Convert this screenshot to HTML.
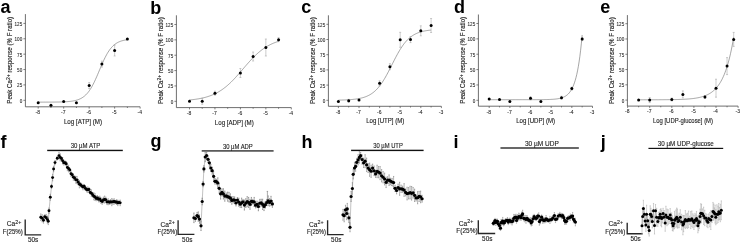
<!DOCTYPE html>
<html><head><meta charset="utf-8"><style>
html,body{margin:0;padding:0;background:#fff;}
svg{display:block;will-change:transform;}
text{font-family:"Liberation Sans", sans-serif;}
.t{stroke:#222;stroke-width:0.12px;}
.s{stroke:#333;stroke-width:0.08px;}
</style></head><body>
<svg width="746" height="244" viewBox="0 0 746 244">
<rect width="746" height="244" fill="#fff"/>
<text x="0.4" y="13.4" font-size="18" font-weight="bold" fill="#000">a</text>
<path d="M25.4 14.1V106.8H140.12" stroke="#4a4a4a" stroke-width="0.8" fill="none"/>
<text x="22.2" y="102.8" font-size="5.1" text-anchor="end" fill="#222" class="s" textLength="2.56" lengthAdjust="spacingAndGlyphs">0</text>
<text x="22.2" y="87.42" font-size="5.1" text-anchor="end" fill="#222" class="s" textLength="5.11" lengthAdjust="spacingAndGlyphs">25</text>
<text x="22.2" y="72.04" font-size="5.1" text-anchor="end" fill="#222" class="s" textLength="5.11" lengthAdjust="spacingAndGlyphs">50</text>
<text x="22.2" y="56.66" font-size="5.1" text-anchor="end" fill="#222" class="s" textLength="5.11" lengthAdjust="spacingAndGlyphs">75</text>
<text x="22.2" y="41.28" font-size="5.1" text-anchor="end" fill="#222" class="s" textLength="7.67" lengthAdjust="spacingAndGlyphs">100</text>
<text x="22.2" y="25.9" font-size="5.1" text-anchor="end" fill="#222" class="s" textLength="7.67" lengthAdjust="spacingAndGlyphs">125</text>
<text x="37.8" y="114.1" font-size="5.0" text-anchor="middle" fill="#222" class="s">-8</text>
<text x="63.28" y="114.1" font-size="5.0" text-anchor="middle" fill="#222" class="s">-7</text>
<text x="88.76" y="114.1" font-size="5.0" text-anchor="middle" fill="#222" class="s">-6</text>
<text x="114.24" y="114.1" font-size="5.0" text-anchor="middle" fill="#222" class="s">-5</text>
<text x="139.72" y="114.1" font-size="5.0" text-anchor="middle" fill="#222" class="s">-4</text>
<path d="M23.4 100.3H25.4M23.4 84.92H25.4M23.4 69.54H25.4M23.4 54.16H25.4M23.4 38.78H25.4M23.4 23.4H25.4M38.2 106.8v1.8M50.94 106.8v1.2M63.68 106.8v1.8M76.42 106.8v1.2M89.16 106.8v1.8M101.9 106.8v1.2M114.64 106.8v1.8M127.38 106.8v1.2M140.12 106.8v1.8" stroke="#4a4a4a" stroke-width="0.7" fill="none"/>
<text x="83" y="123.7" font-size="6.4" text-anchor="middle" fill="#222" class="t" textLength="38.2" lengthAdjust="spacingAndGlyphs">Log [ATP] (M)</text>
<text transform="translate(11.9 60.3) rotate(-90)" font-size="6.3" text-anchor="middle" fill="#222" class="t" textLength="86.8" lengthAdjust="spacingAndGlyphs">Peak Ca<tspan font-size="5.2" dy="-2.4">2+</tspan><tspan dy="2.4"> response (% F ratio)</tspan></text>
<path d="M38.2 102.14 L38.94 102.14 L39.69 102.14 L40.43 102.14 L41.17 102.14 L41.92 102.13 L42.66 102.13 L43.4 102.13 L44.15 102.13 L44.89 102.13 L45.63 102.13 L46.37 102.12 L47.12 102.12 L47.86 102.12 L48.6 102.12 L49.35 102.11 L50.09 102.11 L50.83 102.1 L51.58 102.1 L52.32 102.09 L53.06 102.09 L53.81 102.08 L54.55 102.07 L55.29 102.06 L56.04 102.05 L56.78 102.04 L57.52 102.03 L58.27 102.02 L59.01 102 L59.75 101.99 L60.5 101.97 L61.24 101.94 L61.98 101.92 L62.72 101.89 L63.47 101.87 L64.21 101.83 L64.95 101.79 L65.7 101.75 L66.44 101.71 L67.18 101.66 L67.93 101.6 L68.67 101.53 L69.41 101.46 L70.16 101.38 L70.9 101.29 L71.64 101.19 L72.39 101.08 L73.13 100.96 L73.87 100.82 L74.62 100.67 L75.36 100.49 L76.1 100.3 L76.84 100.09 L77.59 99.86 L78.33 99.6 L79.07 99.31 L79.82 98.99 L80.56 98.63 L81.3 98.24 L82.05 97.81 L82.79 97.34 L83.53 96.81 L84.28 96.24 L85.02 95.61 L85.76 94.92 L86.51 94.17 L87.25 93.36 L87.99 92.48 L88.74 91.52 L89.48 90.49 L90.22 89.39 L90.96 88.21 L91.71 86.95 L92.45 85.62 L93.19 84.21 L93.94 82.73 L94.68 81.19 L95.42 79.59 L96.17 77.93 L96.91 76.24 L97.65 74.5 L98.4 72.74 L99.14 70.97 L99.88 69.19 L100.63 67.43 L101.37 65.68 L102.11 63.96 L102.86 62.28 L103.6 60.64 L104.34 59.07 L105.09 57.55 L105.83 56.11 L106.57 54.73 L107.31 53.43 L108.06 52.2 L108.8 51.06 L109.54 49.98 L110.29 48.99 L111.03 48.06 L111.77 47.21 L112.52 46.42 L113.26 45.7 L114 45.04 L114.75 44.43 L115.49 43.88 L116.23 43.38 L116.98 42.92 L117.72 42.51 L118.46 42.14 L119.21 41.8 L119.95 41.49 L120.69 41.21 L121.43 40.96 L122.18 40.74 L122.92 40.54 L123.66 40.36 L124.41 40.19 L125.15 40.05 L125.89 39.91 L126.64 39.8 L127.38 39.69" stroke="#6a6a6a" stroke-width="0.6" fill="none"/>
<path d="M89.16 82.6V88.6M88.16 82.6h2M88.16 88.6h2M101.9 61.1V67.1M100.9 61.1h2M100.9 67.1h2M114.64 45V56M113.64 45h2M113.64 56h2" stroke="#9a9a9a" stroke-width="0.5" fill="none"/>
<circle cx="38.2" cy="102.7" r="1.5" fill="#000"/>
<circle cx="50.94" cy="105.2" r="1.5" fill="#000"/>
<circle cx="63.68" cy="101.6" r="1.5" fill="#000"/>
<circle cx="76.42" cy="102.7" r="1.5" fill="#000"/>
<circle cx="89.16" cy="85.6" r="1.5" fill="#000"/>
<circle cx="101.9" cy="64.1" r="1.5" fill="#000"/>
<circle cx="114.64" cy="50.5" r="1.5" fill="#000"/>
<circle cx="127.38" cy="39" r="1.5" fill="#000"/>
<text x="150.2" y="13.7" font-size="18" font-weight="bold" fill="#000">b</text>
<path d="M176.4 15.3V107.6H291.3" stroke="#4a4a4a" stroke-width="0.8" fill="none"/>
<text x="173.2" y="103.8" font-size="5.1" text-anchor="end" fill="#222" class="s" textLength="2.56" lengthAdjust="spacingAndGlyphs">0</text>
<text x="173.2" y="88.44" font-size="5.1" text-anchor="end" fill="#222" class="s" textLength="5.11" lengthAdjust="spacingAndGlyphs">25</text>
<text x="173.2" y="73.08" font-size="5.1" text-anchor="end" fill="#222" class="s" textLength="5.11" lengthAdjust="spacingAndGlyphs">50</text>
<text x="173.2" y="57.72" font-size="5.1" text-anchor="end" fill="#222" class="s" textLength="5.11" lengthAdjust="spacingAndGlyphs">75</text>
<text x="173.2" y="42.36" font-size="5.1" text-anchor="end" fill="#222" class="s" textLength="7.67" lengthAdjust="spacingAndGlyphs">100</text>
<text x="173.2" y="27" font-size="5.1" text-anchor="end" fill="#222" class="s" textLength="7.67" lengthAdjust="spacingAndGlyphs">125</text>
<text x="189.1" y="114.9" font-size="5.0" text-anchor="middle" fill="#222" class="s">-8</text>
<text x="214.55" y="114.9" font-size="5.0" text-anchor="middle" fill="#222" class="s">-7</text>
<text x="240" y="114.9" font-size="5.0" text-anchor="middle" fill="#222" class="s">-6</text>
<text x="265.45" y="114.9" font-size="5.0" text-anchor="middle" fill="#222" class="s">-5</text>
<text x="290.9" y="114.9" font-size="5.0" text-anchor="middle" fill="#222" class="s">-4</text>
<path d="M174.4 101.3H176.4M174.4 85.94H176.4M174.4 70.58H176.4M174.4 55.22H176.4M174.4 39.86H176.4M174.4 24.5H176.4M189.5 107.6v1.8M202.22 107.6v1.2M214.95 107.6v1.8M227.68 107.6v1.2M240.4 107.6v1.8M253.12 107.6v1.2M265.85 107.6v1.8M278.57 107.6v1.2M291.3 107.6v1.8" stroke="#4a4a4a" stroke-width="0.7" fill="none"/>
<text x="234.3" y="124.6" font-size="6.4" text-anchor="middle" fill="#222" class="t" textLength="39" lengthAdjust="spacingAndGlyphs">Log [ADP] (M)</text>
<text transform="translate(162.9 60.7) rotate(-90)" font-size="6.3" text-anchor="middle" fill="#222" class="t" textLength="86.8" lengthAdjust="spacingAndGlyphs">Peak Ca<tspan font-size="5.2" dy="-2.4">2+</tspan><tspan dy="2.4"> response (% F ratio)</tspan></text>
<path d="M189.5 99.98 L190.24 99.91 L190.98 99.83 L191.73 99.75 L192.47 99.67 L193.21 99.58 L193.95 99.49 L194.7 99.39 L195.44 99.29 L196.18 99.19 L196.92 99.07 L197.67 98.95 L198.41 98.83 L199.15 98.7 L199.89 98.56 L200.63 98.42 L201.38 98.27 L202.12 98.11 L202.86 97.94 L203.6 97.76 L204.35 97.58 L205.09 97.39 L205.83 97.19 L206.57 96.97 L207.31 96.75 L208.06 96.52 L208.8 96.28 L209.54 96.02 L210.28 95.75 L211.03 95.48 L211.77 95.19 L212.51 94.88 L213.25 94.56 L214 94.23 L214.74 93.89 L215.48 93.53 L216.22 93.15 L216.96 92.76 L217.71 92.36 L218.45 91.93 L219.19 91.5 L219.93 91.04 L220.68 90.57 L221.42 90.08 L222.16 89.57 L222.9 89.05 L223.65 88.51 L224.39 87.95 L225.13 87.37 L225.87 86.77 L226.61 86.16 L227.36 85.53 L228.1 84.88 L228.84 84.21 L229.58 83.53 L230.33 82.83 L231.07 82.11 L231.81 81.38 L232.55 80.63 L233.3 79.87 L234.04 79.1 L234.78 78.31 L235.52 77.51 L236.26 76.69 L237.01 75.87 L237.75 75.04 L238.49 74.2 L239.23 73.35 L239.98 72.5 L240.72 71.64 L241.46 70.78 L242.2 69.91 L242.94 69.04 L243.69 68.18 L244.43 67.31 L245.17 66.45 L245.91 65.59 L246.66 64.74 L247.4 63.89 L248.14 63.05 L248.88 62.22 L249.63 61.39 L250.37 60.58 L251.11 59.78 L251.85 58.99 L252.59 58.22 L253.34 57.45 L254.08 56.71 L254.82 55.97 L255.56 55.26 L256.31 54.56 L257.05 53.88 L257.79 53.21 L258.53 52.56 L259.28 51.93 L260.02 51.31 L260.76 50.72 L261.5 50.14 L262.24 49.58 L262.99 49.04 L263.73 48.51 L264.47 48.01 L265.21 47.52 L265.96 47.05 L266.7 46.59 L267.44 46.15 L268.18 45.73 L268.93 45.33 L269.67 44.94 L270.41 44.56 L271.15 44.2 L271.89 43.86 L272.64 43.52 L273.38 43.21 L274.12 42.9 L274.86 42.61 L275.61 42.33 L276.35 42.07 L277.09 41.81 L277.83 41.57 L278.57 41.34" stroke="#6a6a6a" stroke-width="0.6" fill="none"/>
<path d="M202.22 98.3V104.3M201.22 98.3h2M201.22 104.3h2M214.95 91.2V95.2M213.95 91.2h2M213.95 95.2h2M240.4 68.5V77.5M239.4 68.5h2M239.4 77.5h2M253.12 52V61M252.12 52h2M252.12 61h2M265.85 39V56M264.85 39h2M264.85 56h2M278.57 37.7V41.7M277.57 37.7h2M277.57 41.7h2" stroke="#9a9a9a" stroke-width="0.5" fill="none"/>
<circle cx="189.5" cy="101.3" r="1.5" fill="#000"/>
<circle cx="202.22" cy="101.3" r="1.5" fill="#000"/>
<circle cx="214.95" cy="93.2" r="1.5" fill="#000"/>
<circle cx="240.4" cy="73" r="1.5" fill="#000"/>
<circle cx="253.12" cy="56.5" r="1.5" fill="#000"/>
<circle cx="265.85" cy="47.5" r="1.5" fill="#000"/>
<circle cx="278.57" cy="39.7" r="1.5" fill="#000"/>
<text x="301.3" y="13.2" font-size="18" font-weight="bold" fill="#000">c</text>
<path d="M328.4 15.3V106.3H441.4" stroke="#4a4a4a" stroke-width="0.8" fill="none"/>
<text x="325.2" y="102.8" font-size="5.1" text-anchor="end" fill="#222" class="s" textLength="2.56" lengthAdjust="spacingAndGlyphs">0</text>
<text x="325.2" y="87.6" font-size="5.1" text-anchor="end" fill="#222" class="s" textLength="5.11" lengthAdjust="spacingAndGlyphs">25</text>
<text x="325.2" y="72.4" font-size="5.1" text-anchor="end" fill="#222" class="s" textLength="5.11" lengthAdjust="spacingAndGlyphs">50</text>
<text x="325.2" y="57.2" font-size="5.1" text-anchor="end" fill="#222" class="s" textLength="5.11" lengthAdjust="spacingAndGlyphs">75</text>
<text x="325.2" y="42" font-size="5.1" text-anchor="end" fill="#222" class="s" textLength="7.67" lengthAdjust="spacingAndGlyphs">100</text>
<text x="325.2" y="26.8" font-size="5.1" text-anchor="end" fill="#222" class="s" textLength="7.67" lengthAdjust="spacingAndGlyphs">125</text>
<text x="338" y="113.6" font-size="5.0" text-anchor="middle" fill="#222" class="s">-8</text>
<text x="358.6" y="113.6" font-size="5.0" text-anchor="middle" fill="#222" class="s">-7</text>
<text x="379.2" y="113.6" font-size="5.0" text-anchor="middle" fill="#222" class="s">-6</text>
<text x="399.8" y="113.6" font-size="5.0" text-anchor="middle" fill="#222" class="s">-5</text>
<text x="420.4" y="113.6" font-size="5.0" text-anchor="middle" fill="#222" class="s">-4</text>
<text x="441" y="113.6" font-size="5.0" text-anchor="middle" fill="#222" class="s">-3</text>
<path d="M326.4 100.3H328.4M326.4 85.1H328.4M326.4 69.9H328.4M326.4 54.7H328.4M326.4 39.5H328.4M326.4 24.3H328.4M338.4 106.3v1.8M348.7 106.3v1.2M359 106.3v1.8M369.3 106.3v1.2M379.6 106.3v1.8M389.9 106.3v1.2M400.2 106.3v1.8M410.5 106.3v1.2M420.8 106.3v1.8M431.1 106.3v1.2M441.4 106.3v1.8" stroke="#4a4a4a" stroke-width="0.7" fill="none"/>
<text x="385.2" y="123.1" font-size="6.4" text-anchor="middle" fill="#222" class="t" textLength="38.1" lengthAdjust="spacingAndGlyphs">Log [UTP] (M)</text>
<text transform="translate(314.9 60.7) rotate(-90)" font-size="6.3" text-anchor="middle" fill="#222" class="t" textLength="86.8" lengthAdjust="spacingAndGlyphs">Peak Ca<tspan font-size="5.2" dy="-2.4">2+</tspan><tspan dy="2.4"> response (% F ratio)</tspan></text>
<path d="M338.4 100.12 L339.17 100.11 L339.94 100.09 L340.72 100.07 L341.49 100.05 L342.26 100.03 L343.03 100 L343.81 99.97 L344.58 99.95 L345.35 99.91 L346.12 99.88 L346.9 99.84 L347.67 99.8 L348.44 99.76 L349.21 99.71 L349.99 99.65 L350.76 99.6 L351.53 99.53 L352.3 99.46 L353.08 99.39 L353.85 99.31 L354.62 99.22 L355.39 99.13 L356.17 99.02 L356.94 98.91 L357.71 98.79 L358.48 98.65 L359.26 98.51 L360.03 98.35 L360.8 98.18 L361.57 97.99 L362.35 97.79 L363.12 97.58 L363.89 97.34 L364.66 97.09 L365.44 96.81 L366.21 96.51 L366.98 96.19 L367.75 95.84 L368.53 95.47 L369.3 95.07 L370.07 94.63 L370.84 94.16 L371.62 93.66 L372.39 93.12 L373.16 92.55 L373.93 91.93 L374.71 91.27 L375.48 90.57 L376.25 89.82 L377.02 89.02 L377.8 88.18 L378.57 87.29 L379.34 86.34 L380.12 85.35 L380.89 84.31 L381.66 83.21 L382.43 82.06 L383.2 80.87 L383.98 79.62 L384.75 78.34 L385.52 77 L386.29 75.63 L387.07 74.22 L387.84 72.78 L388.61 71.31 L389.38 69.82 L390.16 68.3 L390.93 66.78 L391.7 65.24 L392.47 63.71 L393.25 62.18 L394.02 60.66 L394.79 59.15 L395.56 57.66 L396.34 56.2 L397.11 54.77 L397.88 53.37 L398.65 52.01 L399.43 50.69 L400.2 49.42 L400.97 48.19 L401.75 47.01 L402.52 45.88 L403.29 44.8 L404.06 43.78 L404.83 42.8 L405.61 41.87 L406.38 41 L407.15 40.17 L407.92 39.39 L408.7 38.66 L409.47 37.97 L410.24 37.32 L411.01 36.72 L411.79 36.16 L412.56 35.63 L413.33 35.14 L414.1 34.68 L414.88 34.26 L415.65 33.87 L416.42 33.5 L417.19 33.16 L417.97 32.85 L418.74 32.56 L419.51 32.29 L420.28 32.04 L421.06 31.81 L421.83 31.6 L422.6 31.41 L423.38 31.23 L424.15 31.06 L424.92 30.91 L425.69 30.77 L426.46 30.64 L427.24 30.52 L428.01 30.41 L428.78 30.31 L429.55 30.21 L430.33 30.13 L431.1 30.05" stroke="#6a6a6a" stroke-width="0.6" fill="none"/>
<path d="M348.7 99.3V102.3M347.7 99.3h2M347.7 102.3h2M379.6 80.8V85.8M378.6 80.8h2M378.6 85.8h2M389.9 63.7V69.7M388.9 63.7h2M388.9 69.7h2M400.2 32.3V47.3M399.2 32.3h2M399.2 47.3h2M410.5 36.6V42.6M409.5 36.6h2M409.5 42.6h2M420.8 25.8V35.8M419.8 25.8h2M419.8 35.8h2M431.1 18.5V32.5M430.1 18.5h2M430.1 32.5h2" stroke="#9a9a9a" stroke-width="0.5" fill="none"/>
<circle cx="338.4" cy="101.5" r="1.5" fill="#000"/>
<circle cx="348.7" cy="100.8" r="1.5" fill="#000"/>
<circle cx="359" cy="99.9" r="1.5" fill="#000"/>
<circle cx="379.6" cy="83.3" r="1.5" fill="#000"/>
<circle cx="389.9" cy="66.7" r="1.5" fill="#000"/>
<circle cx="400.2" cy="39.8" r="1.5" fill="#000"/>
<circle cx="410.5" cy="39.6" r="1.5" fill="#000"/>
<circle cx="420.8" cy="30.8" r="1.5" fill="#000"/>
<circle cx="431.1" cy="25.5" r="1.5" fill="#000"/>
<text x="453.9" y="13.2" font-size="18" font-weight="bold" fill="#000">d</text>
<path d="M478.4 14.5V106.2H592.5" stroke="#4a4a4a" stroke-width="0.8" fill="none"/>
<text x="475.2" y="102.8" font-size="5.1" text-anchor="end" fill="#222" class="s" textLength="2.56" lengthAdjust="spacingAndGlyphs">0</text>
<text x="475.2" y="87.44" font-size="5.1" text-anchor="end" fill="#222" class="s" textLength="5.11" lengthAdjust="spacingAndGlyphs">25</text>
<text x="475.2" y="72.08" font-size="5.1" text-anchor="end" fill="#222" class="s" textLength="5.11" lengthAdjust="spacingAndGlyphs">50</text>
<text x="475.2" y="56.72" font-size="5.1" text-anchor="end" fill="#222" class="s" textLength="5.11" lengthAdjust="spacingAndGlyphs">75</text>
<text x="475.2" y="41.36" font-size="5.1" text-anchor="end" fill="#222" class="s" textLength="7.67" lengthAdjust="spacingAndGlyphs">100</text>
<text x="475.2" y="26" font-size="5.1" text-anchor="end" fill="#222" class="s" textLength="7.67" lengthAdjust="spacingAndGlyphs">125</text>
<text x="488.8" y="113.5" font-size="5.0" text-anchor="middle" fill="#222" class="s">-8</text>
<text x="509.46" y="113.5" font-size="5.0" text-anchor="middle" fill="#222" class="s">-7</text>
<text x="530.12" y="113.5" font-size="5.0" text-anchor="middle" fill="#222" class="s">-6</text>
<text x="550.78" y="113.5" font-size="5.0" text-anchor="middle" fill="#222" class="s">-5</text>
<text x="571.44" y="113.5" font-size="5.0" text-anchor="middle" fill="#222" class="s">-4</text>
<text x="592.1" y="113.5" font-size="5.0" text-anchor="middle" fill="#222" class="s">-3</text>
<path d="M476.4 100.3H478.4M476.4 84.94H478.4M476.4 69.58H478.4M476.4 54.22H478.4M476.4 38.86H478.4M476.4 23.5H478.4M489.2 106.2v1.8M499.53 106.2v1.2M509.86 106.2v1.8M520.19 106.2v1.2M530.52 106.2v1.8M540.85 106.2v1.2M551.18 106.2v1.8M561.51 106.2v1.2M571.84 106.2v1.8M582.17 106.2v1.2M592.5 106.2v1.8" stroke="#4a4a4a" stroke-width="0.7" fill="none"/>
<text x="535.6" y="122.7" font-size="6.4" text-anchor="middle" fill="#222" class="t" textLength="38.9" lengthAdjust="spacingAndGlyphs">Log [UDP] (M)</text>
<text transform="translate(464.9 60.3) rotate(-90)" font-size="6.3" text-anchor="middle" fill="#222" class="t" textLength="86.8" lengthAdjust="spacingAndGlyphs">Peak Ca<tspan font-size="5.2" dy="-2.4">2+</tspan><tspan dy="2.4"> response (% F ratio)</tspan></text>
<path d="M489.2 99.69 L489.97 99.69 L490.75 99.69 L491.52 99.69 L492.3 99.69 L493.07 99.69 L493.85 99.69 L494.62 99.69 L495.4 99.69 L496.17 99.69 L496.95 99.69 L497.72 99.69 L498.5 99.69 L499.27 99.69 L500.05 99.69 L500.82 99.69 L501.6 99.69 L502.37 99.69 L503.15 99.69 L503.92 99.69 L504.69 99.69 L505.47 99.69 L506.24 99.69 L507.02 99.69 L507.79 99.69 L508.57 99.69 L509.34 99.69 L510.12 99.69 L510.89 99.69 L511.67 99.69 L512.44 99.69 L513.22 99.69 L513.99 99.69 L514.77 99.69 L515.54 99.68 L516.32 99.68 L517.09 99.68 L517.87 99.68 L518.64 99.68 L519.42 99.68 L520.19 99.68 L520.96 99.68 L521.74 99.68 L522.51 99.68 L523.29 99.68 L524.06 99.68 L524.84 99.68 L525.61 99.68 L526.39 99.68 L527.16 99.68 L527.94 99.68 L528.71 99.68 L529.49 99.68 L530.26 99.68 L531.04 99.68 L531.81 99.68 L532.59 99.67 L533.36 99.67 L534.14 99.67 L534.91 99.67 L535.68 99.67 L536.46 99.66 L537.23 99.66 L538.01 99.66 L538.78 99.65 L539.56 99.65 L540.33 99.64 L541.11 99.63 L541.88 99.63 L542.66 99.62 L543.43 99.61 L544.21 99.6 L544.98 99.58 L545.76 99.57 L546.53 99.55 L547.31 99.53 L548.08 99.51 L548.86 99.49 L549.63 99.46 L550.41 99.43 L551.18 99.39 L551.95 99.35 L552.73 99.3 L553.5 99.24 L554.28 99.18 L555.05 99.11 L555.83 99.02 L556.6 98.93 L557.38 98.82 L558.15 98.69 L558.93 98.55 L559.7 98.38 L560.48 98.2 L561.25 97.98 L562.03 97.74 L562.8 97.46 L563.58 97.13 L564.35 96.77 L565.13 96.34 L565.9 95.86 L566.67 95.31 L567.45 94.68 L568.22 93.96 L569 93.13 L569.77 92.19 L570.55 91.11 L571.32 89.87 L572.1 88.46 L572.87 86.84 L573.65 84.98 L574.42 82.86 L575.2 80.44 L575.97 77.66 L576.75 74.49 L577.52 70.86 L578.3 66.7 L579.07 61.94 L579.85 56.5 L580.62 50.27 L581.4 43.15 L582.17 34.99" stroke="#6a6a6a" stroke-width="0.6" fill="none"/>
<path d="M530.52 96.8V99.8M529.52 96.8h2M529.52 99.8h2M561.51 96.2V99.2M560.51 96.2h2M560.51 99.2h2M571.84 87.1V90.1M570.84 87.1h2M570.84 90.1h2M582.17 37.6V40.6M581.17 37.6h2M581.17 40.6h2" stroke="#9a9a9a" stroke-width="0.5" fill="none"/>
<circle cx="489.2" cy="99" r="1.5" fill="#000"/>
<circle cx="499.53" cy="99.5" r="1.5" fill="#000"/>
<circle cx="509.86" cy="101.5" r="1.5" fill="#000"/>
<circle cx="530.52" cy="98.3" r="1.5" fill="#000"/>
<circle cx="540.85" cy="101.4" r="1.5" fill="#000"/>
<circle cx="561.51" cy="97.7" r="1.5" fill="#000"/>
<circle cx="571.84" cy="88.6" r="1.5" fill="#000"/>
<circle cx="582.17" cy="39.1" r="1.5" fill="#000"/>
<text x="600.3" y="13.2" font-size="18" font-weight="bold" fill="#000">e</text>
<path d="M627.4 15.1V106.1H738.1" stroke="#4a4a4a" stroke-width="0.8" fill="none"/>
<text x="624.2" y="102.6" font-size="5.1" text-anchor="end" fill="#222" class="s" textLength="2.56" lengthAdjust="spacingAndGlyphs">0</text>
<text x="624.2" y="87.32" font-size="5.1" text-anchor="end" fill="#222" class="s" textLength="5.11" lengthAdjust="spacingAndGlyphs">25</text>
<text x="624.2" y="72.04" font-size="5.1" text-anchor="end" fill="#222" class="s" textLength="5.11" lengthAdjust="spacingAndGlyphs">50</text>
<text x="624.2" y="56.76" font-size="5.1" text-anchor="end" fill="#222" class="s" textLength="5.11" lengthAdjust="spacingAndGlyphs">75</text>
<text x="624.2" y="41.48" font-size="5.1" text-anchor="end" fill="#222" class="s" textLength="7.67" lengthAdjust="spacingAndGlyphs">100</text>
<text x="624.2" y="26.2" font-size="5.1" text-anchor="end" fill="#222" class="s" textLength="7.67" lengthAdjust="spacingAndGlyphs">125</text>
<text x="627.2" y="113.4" font-size="5.0" text-anchor="middle" fill="#222" class="s">-8</text>
<text x="649.3" y="113.4" font-size="5.0" text-anchor="middle" fill="#222" class="s">-7</text>
<text x="671.4" y="113.4" font-size="5.0" text-anchor="middle" fill="#222" class="s">-6</text>
<text x="693.5" y="113.4" font-size="5.0" text-anchor="middle" fill="#222" class="s">-5</text>
<text x="715.6" y="113.4" font-size="5.0" text-anchor="middle" fill="#222" class="s">-4</text>
<text x="737.7" y="113.4" font-size="5.0" text-anchor="middle" fill="#222" class="s">-3</text>
<path d="M625.4 100.1H627.4M625.4 84.82H627.4M625.4 69.54H627.4M625.4 54.26H627.4M625.4 38.98H627.4M625.4 23.7H627.4M627.6 106.1v1.8M638.65 106.1v1.2M649.7 106.1v1.8M660.75 106.1v1.2M671.8 106.1v1.8M682.85 106.1v1.2M693.9 106.1v1.8M704.95 106.1v1.2M716 106.1v1.8M727.05 106.1v1.2M738.1 106.1v1.8" stroke="#4a4a4a" stroke-width="0.7" fill="none"/>
<text x="683" y="122.7" font-size="6.4" text-anchor="middle" fill="#222" class="t" textLength="60" lengthAdjust="spacingAndGlyphs">Log [UDP-glucose] (M)</text>
<text transform="translate(613.9 60.7) rotate(-90)" font-size="6.3" text-anchor="middle" fill="#222" class="t" textLength="86.8" lengthAdjust="spacingAndGlyphs">Peak Ca<tspan font-size="5.2" dy="-2.4">2+</tspan><tspan dy="2.4"> response (% F ratio)</tspan></text>
<path d="M638.65 99.79 L639.44 99.79 L640.23 99.79 L641.03 99.79 L641.82 99.79 L642.61 99.78 L643.4 99.78 L644.19 99.78 L644.99 99.78 L645.78 99.78 L646.57 99.78 L647.36 99.78 L648.15 99.78 L648.94 99.78 L649.74 99.77 L650.53 99.77 L651.32 99.77 L652.11 99.77 L652.9 99.77 L653.7 99.77 L654.49 99.76 L655.28 99.76 L656.07 99.76 L656.86 99.75 L657.66 99.75 L658.45 99.75 L659.24 99.74 L660.03 99.74 L660.82 99.74 L661.62 99.73 L662.41 99.73 L663.2 99.72 L663.99 99.72 L664.78 99.71 L665.58 99.7 L666.37 99.7 L667.16 99.69 L667.95 99.68 L668.74 99.67 L669.53 99.66 L670.33 99.65 L671.12 99.64 L671.91 99.63 L672.7 99.61 L673.49 99.6 L674.29 99.58 L675.08 99.57 L675.87 99.55 L676.66 99.53 L677.45 99.51 L678.25 99.49 L679.04 99.46 L679.83 99.44 L680.62 99.41 L681.41 99.38 L682.21 99.34 L683 99.31 L683.79 99.27 L684.58 99.23 L685.37 99.18 L686.17 99.14 L686.96 99.08 L687.75 99.03 L688.54 98.97 L689.33 98.9 L690.12 98.83 L690.92 98.76 L691.71 98.67 L692.5 98.59 L693.29 98.49 L694.08 98.39 L694.88 98.28 L695.67 98.16 L696.46 98.03 L697.25 97.89 L698.04 97.74 L698.84 97.58 L699.63 97.4 L700.42 97.21 L701.21 97.01 L702 96.79 L702.8 96.55 L703.59 96.3 L704.38 96.02 L705.17 95.72 L705.96 95.4 L706.75 95.06 L707.55 94.68 L708.34 94.28 L709.13 93.85 L709.92 93.38 L710.71 92.87 L711.51 92.33 L712.3 91.74 L713.09 91.1 L713.88 90.42 L714.67 89.68 L715.47 88.88 L716.26 88.02 L717.05 87.09 L717.84 86.09 L718.63 85 L719.43 83.84 L720.22 82.58 L721.01 81.22 L721.8 79.76 L722.59 78.18 L723.39 76.47 L724.18 74.63 L724.97 72.65 L725.76 70.51 L726.55 68.2 L727.34 65.71 L728.14 63.02 L728.93 60.12 L729.72 56.99 L730.51 53.61 L731.3 49.97 L732.1 46.04 L732.89 41.8 L733.68 37.23" stroke="#6a6a6a" stroke-width="0.6" fill="none"/>
<path d="M649.7 97.6V102.6M648.7 97.6h2M648.7 102.6h2M671.8 98V101M670.8 98h2M670.8 101h2M682.85 90.9V97.9M681.85 90.9h2M681.85 97.9h2M704.95 95.5V98.5M703.95 95.5h2M703.95 98.5h2M716 79.2V97.2M715 79.2h2M715 97.2h2M727.05 57.6V74.6M726.05 57.6h2M726.05 74.6h2M733.68 32.4V46.4M732.68 32.4h2M732.68 46.4h2" stroke="#9a9a9a" stroke-width="0.5" fill="none"/>
<circle cx="638.65" cy="100.1" r="1.5" fill="#000"/>
<circle cx="649.7" cy="100.1" r="1.5" fill="#000"/>
<circle cx="671.8" cy="99.5" r="1.5" fill="#000"/>
<circle cx="682.85" cy="94.4" r="1.5" fill="#000"/>
<circle cx="704.95" cy="97" r="1.5" fill="#000"/>
<circle cx="716" cy="88.2" r="1.5" fill="#000"/>
<circle cx="727.05" cy="66.1" r="1.5" fill="#000"/>
<circle cx="733.68" cy="39.4" r="1.5" fill="#000"/>
<text x="0.5" y="147.5" font-size="18" font-weight="bold" fill="#000">f</text>
<rect x="47.2" y="149.75" width="75.6" height="1.4" fill="#111"/>
<text x="85.45" y="147.7" font-size="6.5" text-anchor="middle" fill="#222" class="t" textLength="29.5" lengthAdjust="spacingAndGlyphs">30 µM ATP</text>
<path d="M25.2 219.5V234.8H41.2" stroke="#262626" stroke-width="1.35" fill="none"/>
<text x="6.8" y="226.3" font-size="6.6" fill="#222" class="t">Ca<tspan font-size="5.3" dy="-2.6">2+</tspan></text>
<text x="2.7" y="234.1" font-size="6.4" fill="#222" class="t" textLength="20.1" lengthAdjust="spacingAndGlyphs">F(25%)</text>
<text x="28" y="242.3" font-size="6.4" fill="#222" class="t">50s</text>
<path d="M40.8 217.2 L42.2 218.3 L43.5 220.2 L44.8 216.6 L46.2 217.8 L47.4 219.6 L48.3 221.2 L49 210.7 L50.3 197.3 L51.5 186.5 L52.6 177.6 L53.6 169 L55 162.6 L57.3 158.2 L59 155.6 L60.2 157.25 L61.4 158.9 L62.6 160.56 L63.8 162.21 L65 163.86 L66.2 165.64 L67.4 167.43 L68.6 169.22 L69.8 171.01 L71 172.77 L72.2 174.38 L73.4 175.99 L74.6 177.6 L75.8 179.22 L77 180.83 L78.2 182.09 L79.4 183.09 L80.6 184.1 L81.8 185.1 L83 186.11 L84.2 187.12 L85.4 188.12 L86.6 189.12 L87.8 190.13 L89 191.13 L90.2 192.13 L91.4 193.09 L92.6 193.98 L93.8 194.86 L95 195.74 L96.2 196.62 L97.4 197.51 L98.6 198.16 L99.8 198.7 L101 199.23 L102.2 199.77 L103.4 200.31 L104.6 200.82 L105.8 201.09 L107 201.35 L108.2 201.62 L109.4 201.88 L110.6 202.15 L111.8 202.27 L113 202.19 L114.2 202.11 L115.4 202.03 L116.6 201.83 L117.8 201.57 L119 201.32 L120.2 201.06" stroke="#777" stroke-width="0.45" fill="none"/>
<path d="M40.8 213.86V220.54M40.2 213.86h1.2M40.2 220.54h1.2M42.2 214.68V221.92M41.6 214.68h1.2M41.6 221.92h1.2M43.5 217.24V223.16M42.9 217.24h1.2M42.9 223.16h1.2M44.8 214.7V218.5M44.2 214.7h1.2M44.2 218.5h1.2M46.2 214.45V221.15M45.6 214.45h1.2M45.6 221.15h1.2M47.4 216.03V223.17M46.8 216.03h1.2M46.8 223.17h1.2M48.3 217.76V224.64M47.7 217.76h1.2M47.7 224.64h1.2M49 207.96V213.44M48.4 207.96h1.2M48.4 213.44h1.2M50.3 194.26V200.34M49.7 194.26h1.2M49.7 200.34h1.2M51.5 184.5V188.5M50.9 184.5h1.2M50.9 188.5h1.2M52.6 174.31V180.89M52 174.31h1.2M52 180.89h1.2M53.6 166.25V171.75M53 166.25h1.2M53 171.75h1.2M55 160.45V164.75M54.4 160.45h1.2M54.4 164.75h1.2M57.3 156.51V159.89M56.7 156.51h1.2M56.7 159.89h1.2M59 152.26V158.94M58.4 152.26h1.2M58.4 158.94h1.2M60.2 153.77V161M59.6 153.77h1.2M59.6 161h1.2M61.4 156.83V160.32M60.8 156.83h1.2M60.8 160.32h1.2M62.6 157.5V163.95M62 157.5h1.2M62 163.95h1.2M63.8 160.25V165.07M63.2 160.25h1.2M63.2 165.07h1.2M65 160.89V164.64M64.4 160.89h1.2M64.4 164.64h1.2M66.2 161.51V165.86M65.6 161.51h1.2M65.6 165.86h1.2M67.4 164.4V170.72M66.8 164.4h1.2M66.8 170.72h1.2M68.6 165.18V171.93M68 165.18h1.2M68 171.93h1.2M69.8 168.26V171.57M69.2 168.26h1.2M69.2 171.57h1.2M71 170.92V176.6M70.4 170.92h1.2M70.4 176.6h1.2M72.2 173.09V176.39M71.6 173.09h1.2M71.6 176.39h1.2M73.4 174.11V180.22M72.8 174.11h1.2M72.8 180.22h1.2M74.6 175.81V180.31M74 175.81h1.2M74 180.31h1.2M75.8 176.45V183.23M75.2 176.45h1.2M75.2 183.23h1.2M77 176.46V183.66M76.4 176.46h1.2M76.4 183.66h1.2M78.2 179.53V184.76M77.6 179.53h1.2M77.6 184.76h1.2M79.4 180.59V187.86M78.8 180.59h1.2M78.8 187.86h1.2M80.6 182.47V186.88M80 182.47h1.2M80 186.88h1.2M81.8 184.37V187.81M81.2 184.37h1.2M81.2 187.81h1.2M83 184.26V189.87M82.4 184.26h1.2M82.4 189.87h1.2M84.2 184.61V187.86M83.6 184.61h1.2M83.6 187.86h1.2M85.4 186.53V190.47M84.8 186.53h1.2M84.8 190.47h1.2M86.6 187.16V191.98M86 187.16h1.2M86 191.98h1.2M87.8 186.9V192.56M87.2 186.9h1.2M87.2 192.56h1.2M89 187.66V191.43M88.4 187.66h1.2M88.4 191.43h1.2M90.2 190.87V194.16M89.6 190.87h1.2M89.6 194.16h1.2M91.4 189.82V196.55M90.8 189.82h1.2M90.8 196.55h1.2M92.6 192.46V196.89M92 192.46h1.2M92 196.89h1.2M93.8 192.76V199.86M93.2 192.76h1.2M93.2 199.86h1.2M95 193.61V200.46M94.4 193.61h1.2M94.4 200.46h1.2M96.2 196.12V200.82M95.6 196.12h1.2M95.6 200.82h1.2M97.4 195.5V200.54M96.8 195.5h1.2M96.8 200.54h1.2M98.6 196.65V201.93M98 196.65h1.2M98 201.93h1.2M99.8 196.14V201.94M99.2 196.14h1.2M99.2 201.94h1.2M101 197.9V203.49M100.4 197.9h1.2M100.4 203.49h1.2M102.2 198.84V204.29M101.6 198.84h1.2M101.6 204.29h1.2M103.4 197.06V202.76M102.8 197.06h1.2M102.8 202.76h1.2M104.6 196.03V203.07M104 196.03h1.2M104 203.07h1.2M105.8 197.05V202.28M105.2 197.05h1.2M105.2 202.28h1.2M107 199.65V204.57M106.4 199.65h1.2M106.4 204.57h1.2M108.2 198.71V204.82M107.6 198.71h1.2M107.6 204.82h1.2M109.4 200.27V204.38M108.8 200.27h1.2M108.8 204.38h1.2M110.6 199.56V203.94M110 199.56h1.2M110 203.94h1.2M111.8 198.52V205.7M111.2 198.52h1.2M111.2 205.7h1.2M113 199.13V204.42M112.4 199.13h1.2M112.4 204.42h1.2M114.2 198.77V204.17M113.6 198.77h1.2M113.6 204.17h1.2M115.4 200.41V203.58M114.8 200.41h1.2M114.8 203.58h1.2M116.6 199.65V204.49M116 199.65h1.2M116 204.49h1.2M117.8 200.13V205.66M117.2 200.13h1.2M117.2 205.66h1.2M119 200.86V204.06M118.4 200.86h1.2M118.4 204.06h1.2M120.2 200.02V205.7M119.6 200.02h1.2M119.6 205.7h1.2" stroke="#808080" stroke-width="0.55" fill="none"/>
<circle cx="40.8" cy="217.2" r="1.45" fill="#000"/>
<circle cx="42.2" cy="218.3" r="1.45" fill="#000"/>
<circle cx="43.5" cy="220.2" r="1.45" fill="#000"/>
<circle cx="44.8" cy="216.6" r="1.45" fill="#000"/>
<circle cx="46.2" cy="217.8" r="1.45" fill="#000"/>
<circle cx="47.4" cy="219.6" r="1.45" fill="#000"/>
<circle cx="48.3" cy="221.2" r="1.45" fill="#000"/>
<circle cx="49" cy="210.7" r="1.45" fill="#000"/>
<circle cx="50.3" cy="197.3" r="1.45" fill="#000"/>
<circle cx="51.5" cy="186.5" r="1.45" fill="#000"/>
<circle cx="52.6" cy="177.6" r="1.45" fill="#000"/>
<circle cx="53.6" cy="169" r="1.45" fill="#000"/>
<circle cx="55" cy="162.6" r="1.45" fill="#000"/>
<circle cx="57.3" cy="158.2" r="1.45" fill="#000"/>
<circle cx="59" cy="155.6" r="1.45" fill="#000"/>
<circle cx="60.2" cy="157.39" r="1.45" fill="#000"/>
<circle cx="61.4" cy="158.57" r="1.45" fill="#000"/>
<circle cx="62.6" cy="160.72" r="1.45" fill="#000"/>
<circle cx="63.8" cy="162.66" r="1.45" fill="#000"/>
<circle cx="65" cy="162.76" r="1.45" fill="#000"/>
<circle cx="66.2" cy="163.68" r="1.45" fill="#000"/>
<circle cx="67.4" cy="167.56" r="1.45" fill="#000"/>
<circle cx="68.6" cy="168.56" r="1.45" fill="#000"/>
<circle cx="69.8" cy="169.91" r="1.45" fill="#000"/>
<circle cx="71" cy="173.76" r="1.45" fill="#000"/>
<circle cx="72.2" cy="174.74" r="1.45" fill="#000"/>
<circle cx="73.4" cy="177.16" r="1.45" fill="#000"/>
<circle cx="74.6" cy="178.06" r="1.45" fill="#000"/>
<circle cx="75.8" cy="179.84" r="1.45" fill="#000"/>
<circle cx="77" cy="180.06" r="1.45" fill="#000"/>
<circle cx="78.2" cy="182.15" r="1.45" fill="#000"/>
<circle cx="79.4" cy="184.22" r="1.45" fill="#000"/>
<circle cx="80.6" cy="184.68" r="1.45" fill="#000"/>
<circle cx="81.8" cy="186.09" r="1.45" fill="#000"/>
<circle cx="83" cy="187.07" r="1.45" fill="#000"/>
<circle cx="84.2" cy="186.24" r="1.45" fill="#000"/>
<circle cx="85.4" cy="188.5" r="1.45" fill="#000"/>
<circle cx="86.6" cy="189.57" r="1.45" fill="#000"/>
<circle cx="87.8" cy="189.73" r="1.45" fill="#000"/>
<circle cx="89" cy="189.54" r="1.45" fill="#000"/>
<circle cx="90.2" cy="192.51" r="1.45" fill="#000"/>
<circle cx="91.4" cy="193.18" r="1.45" fill="#000"/>
<circle cx="92.6" cy="194.67" r="1.45" fill="#000"/>
<circle cx="93.8" cy="196.31" r="1.45" fill="#000"/>
<circle cx="95" cy="197.04" r="1.45" fill="#000"/>
<circle cx="96.2" cy="198.47" r="1.45" fill="#000"/>
<circle cx="97.4" cy="198.02" r="1.45" fill="#000"/>
<circle cx="98.6" cy="199.29" r="1.45" fill="#000"/>
<circle cx="99.8" cy="199.04" r="1.45" fill="#000"/>
<circle cx="101" cy="200.69" r="1.45" fill="#000"/>
<circle cx="102.2" cy="201.56" r="1.45" fill="#000"/>
<circle cx="103.4" cy="199.91" r="1.45" fill="#000"/>
<circle cx="104.6" cy="199.55" r="1.45" fill="#000"/>
<circle cx="105.8" cy="199.67" r="1.45" fill="#000"/>
<circle cx="107" cy="202.11" r="1.45" fill="#000"/>
<circle cx="108.2" cy="201.77" r="1.45" fill="#000"/>
<circle cx="109.4" cy="202.33" r="1.45" fill="#000"/>
<circle cx="110.6" cy="201.75" r="1.45" fill="#000"/>
<circle cx="111.8" cy="202.11" r="1.45" fill="#000"/>
<circle cx="113" cy="201.77" r="1.45" fill="#000"/>
<circle cx="114.2" cy="201.47" r="1.45" fill="#000"/>
<circle cx="115.4" cy="202" r="1.45" fill="#000"/>
<circle cx="116.6" cy="202.07" r="1.45" fill="#000"/>
<circle cx="117.8" cy="202.89" r="1.45" fill="#000"/>
<circle cx="119" cy="202.46" r="1.45" fill="#000"/>
<circle cx="120.2" cy="202.86" r="1.45" fill="#000"/>
<text x="150.4" y="146.9" font-size="18" font-weight="bold" fill="#000">g</text>
<rect x="201.7" y="150.1" width="71.9" height="1.6" fill="#4a4a4a"/>
<text x="237.85" y="148.5" font-size="6.5" text-anchor="middle" fill="#222" class="t" textLength="29.9" lengthAdjust="spacingAndGlyphs">30 µM ADP</text>
<path d="M178.1 220.2V234.3H194.4" stroke="#262626" stroke-width="1.35" fill="none"/>
<text x="160.4" y="226.5" font-size="6.6" fill="#222" class="t">Ca<tspan font-size="5.3" dy="-2.6">2+</tspan></text>
<text x="157.5" y="233.7" font-size="6.4" fill="#222" class="t" textLength="19.7" lengthAdjust="spacingAndGlyphs">F(25%)</text>
<text x="182.1" y="241.6" font-size="6.4" fill="#222" class="t">50s</text>
<path d="M193.9 217.8 L195.4 218.5 L197.1 215.6 L198.3 216.6 L199.5 219.1 L201 225.8 L202.2 201.5 L203.1 184.1 L203.9 168.9 L205.2 157 L206.6 158.12 L208 159.74 L209.4 163.21 L210.8 167.09 L212.2 171.18 L213.6 175.32 L215 179.47 L216.4 183.62 L217.8 186.51 L219.2 188.91 L220.6 191.3 L222 192.81 L223.4 194.32 L224.8 195.73 L226.2 196.81 L227.6 197.88 L229 198.85 L230.4 199.68 L231.8 200.51 L233.2 201.08 L234.6 201.52 L236 201.96 L237.4 202.39 L238.8 202.82 L240.2 203.15 L241.6 203.47 L243 203.79 L244.4 204.12 L245.8 204.23 L247.2 204.08 L248.6 203.93 L250 203.77 L251.4 203.62 L252.8 203.73 L254.2 203.88 L255.6 204.03 L257 204.18 L258.4 204.29 L259.8 204.22 L261.2 204.15 L262.6 204.09 L264 204.02 L265.4 203.91 L266.8 203.78 L268.2 203.64 L269.6 203.51 L271 203.33 L272.4 203.14" stroke="#777" stroke-width="0.45" fill="none"/>
<path d="M193.9 212.97V222.63M193.3 212.97h1.2M193.3 222.63h1.2M195.4 215.66V221.34M194.8 215.66h1.2M194.8 221.34h1.2M197.1 212.47V218.73M196.5 212.47h1.2M196.5 218.73h1.2M198.3 211.87V221.33M197.7 211.87h1.2M197.7 221.33h1.2M199.5 214.87V223.33M198.9 214.87h1.2M198.9 223.33h1.2M201 221.07V230.53M200.4 221.07h1.2M200.4 230.53h1.2M202.2 198.17V204.83M201.6 198.17h1.2M201.6 204.83h1.2M203.1 181.43V186.77M202.5 181.43h1.2M202.5 186.77h1.2M203.9 165.73V172.07M203.3 165.73h1.2M203.3 172.07h1.2M205.2 152.31V161.69M204.6 152.31h1.2M204.6 161.69h1.2M206.6 152.38V158.58M206 152.38h1.2M206 158.58h1.2M208 155.99V162.65M207.4 155.99h1.2M207.4 162.65h1.2M209.4 159.27V166.36M208.8 159.27h1.2M208.8 166.36h1.2M210.8 164.43V171.54M210.2 164.43h1.2M210.2 171.54h1.2M212.2 167.17V174.22M211.6 167.17h1.2M211.6 174.22h1.2M213.6 171.27V181.43M213 171.27h1.2M213 181.43h1.2M215 178.6V184.11M214.4 178.6h1.2M214.4 184.11h1.2M216.4 179.3V183.89M215.8 179.3h1.2M215.8 183.89h1.2M217.8 177.82V188.11M217.2 177.82h1.2M217.2 188.11h1.2M219.2 183.41V193.32M218.6 183.41h1.2M218.6 193.32h1.2M220.6 188.56V199.12M220 188.56h1.2M220 199.12h1.2M222 188.86V196.06M221.4 188.86h1.2M221.4 196.06h1.2M223.4 188.73V199.06M222.8 188.73h1.2M222.8 199.06h1.2M224.8 191V201.2M224.2 191h1.2M224.2 201.2h1.2M226.2 192.94V198.85M225.6 192.94h1.2M225.6 198.85h1.2M227.6 192.11V201.2M227 192.11h1.2M227 201.2h1.2M229 192.35V202M228.4 192.35h1.2M228.4 202h1.2M230.4 193.84V202.44M229.8 193.84h1.2M229.8 202.44h1.2M231.8 196.53V204.24M231.2 196.53h1.2M231.2 204.24h1.2M233.2 196.67V202.99M232.6 196.67h1.2M232.6 202.99h1.2M234.6 196.9V203.54M234 196.9h1.2M234 203.54h1.2M236 200.03V205.98M235.4 200.03h1.2M235.4 205.98h1.2M237.4 197.54V202.51M236.8 197.54h1.2M236.8 202.51h1.2M238.8 198.1V206.24M238.2 198.1h1.2M238.2 206.24h1.2M240.2 201.11V207.42M239.6 201.11h1.2M239.6 207.42h1.2M241.6 198.09V207.58M241 198.09h1.2M241 207.58h1.2M243 199.42V204.26M242.4 199.42h1.2M242.4 204.26h1.2M244.4 200.03V210.09M243.8 200.03h1.2M243.8 210.09h1.2M245.8 198.7V207.48M245.2 198.7h1.2M245.2 207.48h1.2M247.2 196.6V206.78M246.6 196.6h1.2M246.6 206.78h1.2M248.6 197.46V207.47M248 197.46h1.2M248 207.47h1.2M250 199.29V209.32M249.4 199.29h1.2M249.4 209.32h1.2M251.4 197.44V205.51M250.8 197.44h1.2M250.8 205.51h1.2M252.8 199.37V204.01M252.2 199.37h1.2M252.2 204.01h1.2M254.2 197.42V206.51M253.6 197.42h1.2M253.6 206.51h1.2M255.6 202.37V207.97M255 202.37h1.2M255 207.97h1.2M257 201.13V207.52M256.4 201.13h1.2M256.4 207.52h1.2M258.4 202.19V210.78M257.8 202.19h1.2M257.8 210.78h1.2M259.8 199.35V207.1M259.2 199.35h1.2M259.2 207.1h1.2M261.2 199.19V206.26M260.6 199.19h1.2M260.6 206.26h1.2M262.6 199.21V209.48M262 199.21h1.2M262 209.48h1.2M264 202.31V210.59M263.4 202.31h1.2M263.4 210.59h1.2M265.4 201.39V208.03M264.8 201.39h1.2M264.8 208.03h1.2M266.8 199.44V205.54M266.2 199.44h1.2M266.2 205.54h1.2M268.2 195.89V205.69M267.6 195.89h1.2M267.6 205.69h1.2M269.6 198.67V206.13M269 198.67h1.2M269 206.13h1.2M271 196.32V205.63M270.4 196.32h1.2M270.4 205.63h1.2M272.4 200.58V207.28M271.8 200.58h1.2M271.8 207.28h1.2M267.4 191.4V201M266.7 191.4h1.4" stroke="#6a6a6a" stroke-width="0.55" fill="none"/>
<circle cx="193.9" cy="217.8" r="1.6" fill="#000"/>
<circle cx="195.4" cy="218.5" r="1.6" fill="#000"/>
<circle cx="197.1" cy="215.6" r="1.6" fill="#000"/>
<circle cx="198.3" cy="216.6" r="1.6" fill="#000"/>
<circle cx="199.5" cy="219.1" r="1.6" fill="#000"/>
<circle cx="201" cy="225.8" r="1.6" fill="#000"/>
<circle cx="202.2" cy="201.5" r="1.6" fill="#000"/>
<circle cx="203.1" cy="184.1" r="1.6" fill="#000"/>
<circle cx="203.9" cy="168.9" r="1.6" fill="#000"/>
<circle cx="205.2" cy="157" r="1.6" fill="#000"/>
<circle cx="206.6" cy="155.48" r="1.6" fill="#000"/>
<circle cx="208" cy="159.32" r="1.6" fill="#000"/>
<circle cx="209.4" cy="162.82" r="1.6" fill="#000"/>
<circle cx="210.8" cy="167.99" r="1.6" fill="#000"/>
<circle cx="212.2" cy="170.7" r="1.6" fill="#000"/>
<circle cx="213.6" cy="176.35" r="1.6" fill="#000"/>
<circle cx="215" cy="181.36" r="1.6" fill="#000"/>
<circle cx="216.4" cy="181.6" r="1.6" fill="#000"/>
<circle cx="217.8" cy="182.97" r="1.6" fill="#000"/>
<circle cx="219.2" cy="188.37" r="1.6" fill="#000"/>
<circle cx="220.6" cy="193.84" r="1.6" fill="#000"/>
<circle cx="222" cy="192.46" r="1.6" fill="#000"/>
<circle cx="223.4" cy="193.9" r="1.6" fill="#000"/>
<circle cx="224.8" cy="196.1" r="1.6" fill="#000"/>
<circle cx="226.2" cy="195.89" r="1.6" fill="#000"/>
<circle cx="227.6" cy="196.66" r="1.6" fill="#000"/>
<circle cx="229" cy="197.18" r="1.6" fill="#000"/>
<circle cx="230.4" cy="198.14" r="1.6" fill="#000"/>
<circle cx="231.8" cy="200.39" r="1.6" fill="#000"/>
<circle cx="233.2" cy="199.83" r="1.6" fill="#000"/>
<circle cx="234.6" cy="200.22" r="1.6" fill="#000"/>
<circle cx="236" cy="203" r="1.6" fill="#000"/>
<circle cx="237.4" cy="200.03" r="1.6" fill="#000"/>
<circle cx="238.8" cy="202.17" r="1.6" fill="#000"/>
<circle cx="240.2" cy="204.26" r="1.6" fill="#000"/>
<circle cx="241.6" cy="202.83" r="1.6" fill="#000"/>
<circle cx="243" cy="201.84" r="1.6" fill="#000"/>
<circle cx="244.4" cy="205.06" r="1.6" fill="#000"/>
<circle cx="245.8" cy="203.09" r="1.6" fill="#000"/>
<circle cx="247.2" cy="201.69" r="1.6" fill="#000"/>
<circle cx="248.6" cy="202.46" r="1.6" fill="#000"/>
<circle cx="250" cy="204.3" r="1.6" fill="#000"/>
<circle cx="251.4" cy="201.47" r="1.6" fill="#000"/>
<circle cx="252.8" cy="201.69" r="1.6" fill="#000"/>
<circle cx="254.2" cy="201.97" r="1.6" fill="#000"/>
<circle cx="255.6" cy="205.17" r="1.6" fill="#000"/>
<circle cx="257" cy="204.33" r="1.6" fill="#000"/>
<circle cx="258.4" cy="206.48" r="1.6" fill="#000"/>
<circle cx="259.8" cy="203.23" r="1.6" fill="#000"/>
<circle cx="261.2" cy="202.73" r="1.6" fill="#000"/>
<circle cx="262.6" cy="204.35" r="1.6" fill="#000"/>
<circle cx="264" cy="206.45" r="1.6" fill="#000"/>
<circle cx="265.4" cy="204.71" r="1.6" fill="#000"/>
<circle cx="266.8" cy="202.49" r="1.6" fill="#000"/>
<circle cx="268.2" cy="200.79" r="1.6" fill="#000"/>
<circle cx="269.6" cy="202.4" r="1.6" fill="#000"/>
<circle cx="271" cy="200.98" r="1.6" fill="#000"/>
<circle cx="272.4" cy="203.93" r="1.6" fill="#000"/>
<text x="301.5" y="147.8" font-size="18" font-weight="bold" fill="#000">h</text>
<rect x="351.1" y="149.7" width="72.5" height="1.4" fill="#111"/>
<text x="388" y="147.7" font-size="6.5" text-anchor="middle" fill="#222" class="t" textLength="29.7" lengthAdjust="spacingAndGlyphs">30 µM UTP</text>
<path d="M327.6 220.2V234.6H343.6" stroke="#262626" stroke-width="1.35" fill="none"/>
<text x="309.1" y="226.5" font-size="6.6" fill="#222" class="t">Ca<tspan font-size="5.3" dy="-2.6">2+</tspan></text>
<text x="306.9" y="233.9" font-size="6.4" fill="#222" class="t" textLength="19.1" lengthAdjust="spacingAndGlyphs">F(25%)</text>
<text x="331.1" y="241.8" font-size="6.4" fill="#222" class="t">50s</text>
<path d="M343 214.8 L344.2 215.7 L345.5 209.8 L346.7 213.5 L347.3 208.9 L348.9 217.8 L350 227.3 L351.1 196.5 L352.4 188.5 L353.2 174.3 L354.5 168 L355.6 166.4 L356.8 162.3 L358.1 159.8 L359.4 157.4 L360.6 155.7 L362.1 159.28 L363.6 160.97 L365.1 162.18 L366.6 163.63 L368.1 165.17 L369.6 166.68 L371.1 168.07 L372.6 169.45 L374.1 170.69 L375.6 171.85 L377.1 173 L378.6 174.15 L380.1 175.31 L381.6 176.59 L383.1 178.06 L384.6 179.53 L386.1 181 L387.6 182.35 L389.1 183.69 L390.6 184.86 L392.1 185.76 L393.6 186.66 L395.1 187.54 L396.6 188.14 L398.1 188.74 L399.6 189.34 L401.1 190.05 L402.6 190.8 L404.1 191.55 L405.6 192.3 L407.1 193.05 L408.6 193.8 L410.1 194.54 L411.6 195.14 L413.1 195.74 L414.6 196.34 L416.1 197.16 L417.6 198.06 L419.1 198.96 L420.6 199.86 L422.1 200.76" stroke="#777" stroke-width="0.45" fill="none"/>
<path d="M343 209.38V220.22M342.4 209.38h1.2M342.4 220.22h1.2M344.2 209.57V221.83M343.6 209.57h1.2M343.6 221.83h1.2M345.5 205.28V214.32M344.9 205.28h1.2M344.9 214.32h1.2M346.7 207.3V219.7M346.1 207.3h1.2M346.1 219.7h1.2M347.3 203.41V214.39M346.7 203.41h1.2M346.7 214.39h1.2M348.9 213.07V222.53M348.3 213.07h1.2M348.3 222.53h1.2M350 222.81V231.79M349.4 222.81h1.2M349.4 231.79h1.2M351.1 191.52V201.48M350.5 191.52h1.2M350.5 201.48h1.2M352.4 182.69V194.31M351.8 182.69h1.2M351.8 194.31h1.2M353.2 169.62V178.98M352.6 169.62h1.2M352.6 178.98h1.2M354.5 162.22V173.78M353.9 162.22h1.2M353.9 173.78h1.2M355.6 161.56V171.24M355 161.56h1.2M355 171.24h1.2M356.8 158.32V166.28M356.2 158.32h1.2M356.2 166.28h1.2M358.1 154.66V164.94M357.5 154.66h1.2M357.5 164.94h1.2M359.4 151.62V163.18M358.8 151.62h1.2M358.8 163.18h1.2M360.6 152.41V158.99M360 152.41h1.2M360 158.99h1.2M362.1 154.78V164.18M361.5 154.78h1.2M361.5 164.18h1.2M363.6 158.13V167.53M363 158.13h1.2M363 167.53h1.2M365.1 154.66V167.69M364.5 154.66h1.2M364.5 167.69h1.2M366.6 158.06V171.56M366 158.06h1.2M366 171.56h1.2M368.1 163.56V172.56M367.5 163.56h1.2M367.5 172.56h1.2M369.6 163.11V176.29M369 163.11h1.2M369 176.29h1.2M371.1 165.07V177.4M370.5 165.07h1.2M370.5 177.4h1.2M372.6 164.07V172.16M372 164.07h1.2M372 172.16h1.2M374.1 165.96V175.67M373.5 165.96h1.2M373.5 175.67h1.2M375.6 170.44V177.42M375 170.44h1.2M375 177.42h1.2M377.1 165.16V177.67M376.5 165.16h1.2M376.5 177.67h1.2M378.6 166.51V177.81M378 166.51h1.2M378 177.81h1.2M380.1 166.57V179.66M379.5 166.57h1.2M379.5 179.66h1.2M381.6 169.58V181.92M381 169.58h1.2M381 181.92h1.2M383.1 171.58V182.92M382.5 171.58h1.2M382.5 182.92h1.2M384.6 173.08V184.95M384 173.08h1.2M384 184.95h1.2M386.1 177.06V187.57M385.5 177.06h1.2M385.5 187.57h1.2M387.6 176.74V183.56M387 176.74h1.2M387 183.56h1.2M389.1 174.86V185.56M388.5 174.86h1.2M388.5 185.56h1.2M390.6 178.18V184.22M390 178.18h1.2M390 184.22h1.2M392.1 178.44V185.59M391.5 178.44h1.2M391.5 185.59h1.2M393.6 176.46V188.65M393 176.46h1.2M393 188.65h1.2M395.1 185.17V191.53M394.5 185.17h1.2M394.5 191.53h1.2M396.6 187.12V193.86M396 187.12h1.2M396 193.86h1.2M398.1 184.08V190.88M397.5 184.08h1.2M397.5 190.88h1.2M399.6 182.26V195.31M399 182.26h1.2M399 195.31h1.2M401.1 185.05V192.49M400.5 185.05h1.2M400.5 192.49h1.2M402.6 186.09V192.28M402 186.09h1.2M402 192.28h1.2M404.1 183.62V196.36M403.5 183.62h1.2M403.5 196.36h1.2M405.6 188.94V195.91M405 188.94h1.2M405 195.91h1.2M407.1 187.21V199.97M406.5 187.21h1.2M406.5 199.97h1.2M408.6 187.57V198.96M408 187.57h1.2M408 198.96h1.2M410.1 186.22V198.91M409.5 186.22h1.2M409.5 198.91h1.2M411.6 186.48V200.1M411 186.48h1.2M411 200.1h1.2M413.1 187.49V198.12M412.5 187.49h1.2M412.5 198.12h1.2M414.6 189.13V201.52M414 189.13h1.2M414 201.52h1.2M416.1 194.77V201.06M415.5 194.77h1.2M415.5 201.06h1.2M417.6 191.66V203.8M417 191.66h1.2M417 203.8h1.2M419.1 191.41V201.5M418.5 191.41h1.2M418.5 201.5h1.2M420.6 191.07V202.79M420 191.07h1.2M420 202.79h1.2M422.1 195.31V202.16M421.5 195.31h1.2M421.5 202.16h1.2" stroke="#777" stroke-width="0.55" fill="none"/>
<circle cx="343" cy="214.8" r="1.6" fill="#000"/>
<circle cx="344.2" cy="215.7" r="1.6" fill="#000"/>
<circle cx="345.5" cy="209.8" r="1.6" fill="#000"/>
<circle cx="346.7" cy="213.5" r="1.6" fill="#000"/>
<circle cx="347.3" cy="208.9" r="1.6" fill="#000"/>
<circle cx="348.9" cy="217.8" r="1.6" fill="#000"/>
<circle cx="350" cy="227.3" r="1.6" fill="#000"/>
<circle cx="351.1" cy="196.5" r="1.6" fill="#000"/>
<circle cx="352.4" cy="188.5" r="1.6" fill="#000"/>
<circle cx="353.2" cy="174.3" r="1.6" fill="#000"/>
<circle cx="354.5" cy="168" r="1.6" fill="#000"/>
<circle cx="355.6" cy="166.4" r="1.6" fill="#000"/>
<circle cx="356.8" cy="162.3" r="1.6" fill="#000"/>
<circle cx="358.1" cy="159.8" r="1.6" fill="#000"/>
<circle cx="359.4" cy="157.4" r="1.6" fill="#000"/>
<circle cx="360.6" cy="155.7" r="1.6" fill="#000"/>
<circle cx="362.1" cy="159.48" r="1.6" fill="#000"/>
<circle cx="363.6" cy="162.83" r="1.6" fill="#000"/>
<circle cx="365.1" cy="161.17" r="1.6" fill="#000"/>
<circle cx="366.6" cy="164.81" r="1.6" fill="#000"/>
<circle cx="368.1" cy="168.06" r="1.6" fill="#000"/>
<circle cx="369.6" cy="169.7" r="1.6" fill="#000"/>
<circle cx="371.1" cy="171.23" r="1.6" fill="#000"/>
<circle cx="372.6" cy="168.12" r="1.6" fill="#000"/>
<circle cx="374.1" cy="170.81" r="1.6" fill="#000"/>
<circle cx="375.6" cy="173.93" r="1.6" fill="#000"/>
<circle cx="377.1" cy="171.42" r="1.6" fill="#000"/>
<circle cx="378.6" cy="172.16" r="1.6" fill="#000"/>
<circle cx="380.1" cy="173.12" r="1.6" fill="#000"/>
<circle cx="381.6" cy="175.75" r="1.6" fill="#000"/>
<circle cx="383.1" cy="177.25" r="1.6" fill="#000"/>
<circle cx="384.6" cy="179.01" r="1.6" fill="#000"/>
<circle cx="386.1" cy="182.32" r="1.6" fill="#000"/>
<circle cx="387.6" cy="180.15" r="1.6" fill="#000"/>
<circle cx="389.1" cy="180.21" r="1.6" fill="#000"/>
<circle cx="390.6" cy="181.2" r="1.6" fill="#000"/>
<circle cx="392.1" cy="182.01" r="1.6" fill="#000"/>
<circle cx="393.6" cy="182.56" r="1.6" fill="#000"/>
<circle cx="395.1" cy="188.35" r="1.6" fill="#000"/>
<circle cx="396.6" cy="190.49" r="1.6" fill="#000"/>
<circle cx="398.1" cy="187.48" r="1.6" fill="#000"/>
<circle cx="399.6" cy="188.78" r="1.6" fill="#000"/>
<circle cx="401.1" cy="188.77" r="1.6" fill="#000"/>
<circle cx="402.6" cy="189.19" r="1.6" fill="#000"/>
<circle cx="404.1" cy="189.99" r="1.6" fill="#000"/>
<circle cx="405.6" cy="192.42" r="1.6" fill="#000"/>
<circle cx="407.1" cy="193.59" r="1.6" fill="#000"/>
<circle cx="408.6" cy="193.26" r="1.6" fill="#000"/>
<circle cx="410.1" cy="192.57" r="1.6" fill="#000"/>
<circle cx="411.6" cy="193.29" r="1.6" fill="#000"/>
<circle cx="413.1" cy="192.8" r="1.6" fill="#000"/>
<circle cx="414.6" cy="195.33" r="1.6" fill="#000"/>
<circle cx="416.1" cy="197.91" r="1.6" fill="#000"/>
<circle cx="417.6" cy="197.73" r="1.6" fill="#000"/>
<circle cx="419.1" cy="196.46" r="1.6" fill="#000"/>
<circle cx="420.6" cy="196.93" r="1.6" fill="#000"/>
<circle cx="422.1" cy="198.73" r="1.6" fill="#000"/>
<text x="453.6" y="147.5" font-size="18" font-weight="bold" fill="#000">i</text>
<rect x="500.45" y="147.2" width="78.4" height="1.6" fill="#444"/>
<text x="541.9" y="146.1" font-size="6.5" text-anchor="middle" fill="#222" class="t" textLength="33.9" lengthAdjust="spacingAndGlyphs">30 µM UDP</text>
<path d="M478.3 220.2V233.5H495.2" stroke="#262626" stroke-width="1.35" fill="none"/>
<text x="458.8" y="225.7" font-size="6.6" fill="#222" class="t">Ca<tspan font-size="5.3" dy="-2.6">2+</tspan></text>
<text x="456.3" y="233.4" font-size="6.4" fill="#222" class="t" textLength="21.3" lengthAdjust="spacingAndGlyphs">F(25%)</text>
<text x="482.1" y="241.1" font-size="6.4" fill="#222" class="t">50s</text>
<path d="M493.3 223.3 L495 220.5 L496.6 221.6 L498.3 223.8 L500.5 228.2 L501.1 222.7 L502.7 221 L504.4 222.7 L506.6 220.5 L508.3 222.1 L509.9 220.5 L512.1 221.6 L513.8 218.3 L516 217.2 L516.5 220.5 L518.8 216.6 L521 217.7 L522.6 213.8 L523.7 218.3 L526 219.4 L528.2 219.9 L530.4 221 L532 221.6 L534.2 216.6 L536.5 218.3 L538.7 216.1 L539.4 221.6 L541.6 217.2 L543.8 220.5 L546.1 218.8 L548.3 220.5 L551.6 219.4 L554.4 215.5 L555.5 219.4 L558.2 216.1 L561.5 216.1 L563.8 217.7 L565.4 221.6 L567.6 218.3 L570.4 217.2 L572.6 216.1 L574.3 220.5 L575.4 222.1" stroke="#777" stroke-width="0.45" fill="none"/>
<path d="M493.3 221.2V225.4M492.7 221.2h1.2M492.7 225.4h1.2M494.15 220.42V224.98M493.55 220.42h1.2M493.55 224.98h1.2M495 218.37V222.63M494.4 218.37h1.2M494.4 222.63h1.2M495.8 219.45V225.43M495.2 219.45h1.2M495.2 225.43h1.2M496.6 219.21V223.99M496 219.21h1.2M496 223.99h1.2M497.45 219.1V223.5M496.85 219.1h1.2M496.85 223.5h1.2M498.3 220.57V227.03M497.7 220.57h1.2M497.7 227.03h1.2M499.4 221.62V229.25M498.8 221.62h1.2M498.8 229.25h1.2M500.5 225.86V230.54M499.9 225.86h1.2M499.9 230.54h1.2M501.1 219.44V225.96M500.5 219.44h1.2M500.5 225.96h1.2M501.9 219.45V224.66M501.3 219.45h1.2M501.3 224.66h1.2M502.7 217.41V224.59M502.1 217.41h1.2M502.1 224.59h1.2M503.55 219.91V225.89M502.95 219.91h1.2M502.95 225.89h1.2M504.4 220.42V224.98M503.8 220.42h1.2M503.8 224.98h1.2M505.5 218.61V222.94M504.9 218.61h1.2M504.9 222.94h1.2M506.6 218.77V222.23M506 218.77h1.2M506 222.23h1.2M507.45 217.52V223.03M506.85 217.52h1.2M506.85 223.03h1.2M508.3 219.56V224.64M507.7 219.56h1.2M507.7 224.64h1.2M509.1 218.43V222.57M508.5 218.43h1.2M508.5 222.57h1.2M509.9 218.01V222.99M509.3 218.01h1.2M509.3 222.99h1.2M511 219.02V223.82M510.4 219.02h1.2M510.4 223.82h1.2M512.1 218.19V225.01M511.5 218.19h1.2M511.5 225.01h1.2M512.95 218.76V222.76M512.35 218.76h1.2M512.35 222.76h1.2M513.8 214.4V222.2M513.2 214.4h1.2M513.2 222.2h1.2M514.9 214.66V220.16M514.3 214.66h1.2M514.3 220.16h1.2M516 214.18V220.22M515.4 214.18h1.2M515.4 220.22h1.2M516.5 217.77V223.23M515.9 217.77h1.2M515.9 223.23h1.2M517.65 214.58V221.68M517.05 214.58h1.2M517.05 221.68h1.2M518.8 213.08V220.12M518.2 213.08h1.2M518.2 220.12h1.2M519.9 213.89V219.75M519.3 213.89h1.2M519.3 219.75h1.2M521 214.94V220.46M520.4 214.94h1.2M520.4 220.46h1.2M521.8 211.98V218.57M521.2 211.98h1.2M521.2 218.57h1.2M522.6 210.2V217.4M522 210.2h1.2M522 217.4h1.2M523.7 215.72V220.88M523.1 215.72h1.2M523.1 220.88h1.2M524.85 215.27V221.91M524.25 215.27h1.2M524.25 221.91h1.2M526 215.57V223.23M525.4 215.57h1.2M525.4 223.23h1.2M527.1 215.59V221.04M526.5 215.59h1.2M526.5 221.04h1.2M528.2 217.71V222.09M527.6 217.71h1.2M527.6 222.09h1.2M529.3 218.25V222.66M528.7 218.25h1.2M528.7 222.66h1.2M530.4 217.71V224.29M529.8 217.71h1.2M529.8 224.29h1.2M531.2 219.62V226.01M530.6 219.62h1.2M530.6 226.01h1.2M532 217.77V225.43M531.4 217.77h1.2M531.4 225.43h1.2M533.1 215.23V222.41M532.5 215.23h1.2M532.5 222.41h1.2M534.2 214.38V218.82M533.6 214.38h1.2M533.6 218.82h1.2M535.35 216.14V220.35M534.75 216.14h1.2M534.75 220.35h1.2M536.5 216.04V220.56M535.9 216.04h1.2M535.9 220.56h1.2M537.6 214.01V218.21M537 214.01h1.2M537 218.21h1.2M538.7 212.84V219.36M538.1 212.84h1.2M538.1 219.36h1.2M539.4 218V225.2M538.8 218h1.2M538.8 225.2h1.2M540.5 216.32V223.71M539.9 216.32h1.2M539.9 223.71h1.2M541.6 214.95V219.45M541 214.95h1.2M541 219.45h1.2M542.7 216.05V223.29M542.1 216.05h1.2M542.1 223.29h1.2M543.8 218.12V222.88M543.2 218.12h1.2M543.2 222.88h1.2M544.95 217.58V222.83M544.35 217.58h1.2M544.35 222.83h1.2M546.1 215.49V222.11M545.5 215.49h1.2M545.5 222.11h1.2M547.2 217.83V221.58M546.6 217.83h1.2M546.6 221.58h1.2M548.3 218.61V222.39M547.7 218.61h1.2M547.7 222.39h1.2M549.95 216.35V223.45M549.35 216.35h1.2M549.35 223.45h1.2M551.6 217.07V221.73M551 217.07h1.2M551 221.73h1.2M553 215.43V220.39M552.4 215.43h1.2M552.4 220.39h1.2M554.4 212.52V218.48M553.8 212.52h1.2M553.8 218.48h1.2M555.5 216.21V222.59M554.9 216.21h1.2M554.9 222.59h1.2M556.85 217.33V220.72M556.25 217.33h1.2M556.25 220.72h1.2M558.2 213.67V218.53M557.6 213.67h1.2M557.6 218.53h1.2M559.85 212.32V217.63M559.25 212.32h1.2M559.25 217.63h1.2M561.5 213.33V218.87M560.9 213.33h1.2M560.9 218.87h1.2M562.65 213.46V217.76M562.05 213.46h1.2M562.05 217.76h1.2M563.8 214.71V220.69M563.2 214.71h1.2M563.2 220.69h1.2M564.6 216.62V224.26M564 216.62h1.2M564 224.26h1.2M565.4 219.04V224.16M564.8 219.04h1.2M564.8 224.16h1.2M566.5 218.38V224.18M565.9 218.38h1.2M565.9 224.18h1.2M567.6 216.35V220.25M567 216.35h1.2M567 220.25h1.2M569 215.51V220.1M568.4 215.51h1.2M568.4 220.1h1.2M570.4 214.03V220.37M569.8 214.03h1.2M569.8 220.37h1.2M571.5 214.54V218.4M570.9 214.54h1.2M570.9 218.4h1.2M572.6 212.43V219.77M572 212.43h1.2M572 219.77h1.2M573.45 215.28V222.72M572.85 215.28h1.2M572.85 222.72h1.2M574.3 218.6V222.4M573.7 218.6h1.2M573.7 222.4h1.2M575.4 218.31V225.89M574.8 218.31h1.2M574.8 225.89h1.2" stroke="#888" stroke-width="0.55" fill="none"/>
<circle cx="493.3" cy="223.3" r="1.6" fill="#000"/>
<circle cx="494.15" cy="222.7" r="1.6" fill="#000"/>
<circle cx="495" cy="220.5" r="1.6" fill="#000"/>
<circle cx="495.8" cy="222.44" r="1.6" fill="#000"/>
<circle cx="496.6" cy="221.6" r="1.6" fill="#000"/>
<circle cx="497.45" cy="221.3" r="1.6" fill="#000"/>
<circle cx="498.3" cy="223.8" r="1.6" fill="#000"/>
<circle cx="499.4" cy="225.44" r="1.6" fill="#000"/>
<circle cx="500.5" cy="228.2" r="1.6" fill="#000"/>
<circle cx="501.1" cy="222.7" r="1.6" fill="#000"/>
<circle cx="501.9" cy="222.05" r="1.6" fill="#000"/>
<circle cx="502.7" cy="221" r="1.6" fill="#000"/>
<circle cx="503.55" cy="222.9" r="1.6" fill="#000"/>
<circle cx="504.4" cy="222.7" r="1.6" fill="#000"/>
<circle cx="505.5" cy="220.77" r="1.6" fill="#000"/>
<circle cx="506.6" cy="220.5" r="1.6" fill="#000"/>
<circle cx="507.45" cy="220.28" r="1.6" fill="#000"/>
<circle cx="508.3" cy="222.1" r="1.6" fill="#000"/>
<circle cx="509.1" cy="220.5" r="1.6" fill="#000"/>
<circle cx="509.9" cy="220.5" r="1.6" fill="#000"/>
<circle cx="511" cy="221.42" r="1.6" fill="#000"/>
<circle cx="512.1" cy="221.6" r="1.6" fill="#000"/>
<circle cx="512.95" cy="220.76" r="1.6" fill="#000"/>
<circle cx="513.8" cy="218.3" r="1.6" fill="#000"/>
<circle cx="514.9" cy="217.41" r="1.6" fill="#000"/>
<circle cx="516" cy="217.2" r="1.6" fill="#000"/>
<circle cx="516.5" cy="220.5" r="1.6" fill="#000"/>
<circle cx="517.65" cy="218.13" r="1.6" fill="#000"/>
<circle cx="518.8" cy="216.6" r="1.6" fill="#000"/>
<circle cx="519.9" cy="216.82" r="1.6" fill="#000"/>
<circle cx="521" cy="217.7" r="1.6" fill="#000"/>
<circle cx="521.8" cy="215.27" r="1.6" fill="#000"/>
<circle cx="522.6" cy="213.8" r="1.6" fill="#000"/>
<circle cx="523.7" cy="218.3" r="1.6" fill="#000"/>
<circle cx="524.85" cy="218.59" r="1.6" fill="#000"/>
<circle cx="526" cy="219.4" r="1.6" fill="#000"/>
<circle cx="527.1" cy="218.32" r="1.6" fill="#000"/>
<circle cx="528.2" cy="219.9" r="1.6" fill="#000"/>
<circle cx="529.3" cy="220.45" r="1.6" fill="#000"/>
<circle cx="530.4" cy="221" r="1.6" fill="#000"/>
<circle cx="531.2" cy="222.81" r="1.6" fill="#000"/>
<circle cx="532" cy="221.6" r="1.6" fill="#000"/>
<circle cx="533.1" cy="218.82" r="1.6" fill="#000"/>
<circle cx="534.2" cy="216.6" r="1.6" fill="#000"/>
<circle cx="535.35" cy="218.24" r="1.6" fill="#000"/>
<circle cx="536.5" cy="218.3" r="1.6" fill="#000"/>
<circle cx="537.6" cy="216.11" r="1.6" fill="#000"/>
<circle cx="538.7" cy="216.1" r="1.6" fill="#000"/>
<circle cx="539.4" cy="221.6" r="1.6" fill="#000"/>
<circle cx="540.5" cy="220.01" r="1.6" fill="#000"/>
<circle cx="541.6" cy="217.2" r="1.6" fill="#000"/>
<circle cx="542.7" cy="219.67" r="1.6" fill="#000"/>
<circle cx="543.8" cy="220.5" r="1.6" fill="#000"/>
<circle cx="544.95" cy="220.21" r="1.6" fill="#000"/>
<circle cx="546.1" cy="218.8" r="1.6" fill="#000"/>
<circle cx="547.2" cy="219.7" r="1.6" fill="#000"/>
<circle cx="548.3" cy="220.5" r="1.6" fill="#000"/>
<circle cx="549.95" cy="219.9" r="1.6" fill="#000"/>
<circle cx="551.6" cy="219.4" r="1.6" fill="#000"/>
<circle cx="553" cy="217.91" r="1.6" fill="#000"/>
<circle cx="554.4" cy="215.5" r="1.6" fill="#000"/>
<circle cx="555.5" cy="219.4" r="1.6" fill="#000"/>
<circle cx="556.85" cy="219.02" r="1.6" fill="#000"/>
<circle cx="558.2" cy="216.1" r="1.6" fill="#000"/>
<circle cx="559.85" cy="214.98" r="1.6" fill="#000"/>
<circle cx="561.5" cy="216.1" r="1.6" fill="#000"/>
<circle cx="562.65" cy="215.61" r="1.6" fill="#000"/>
<circle cx="563.8" cy="217.7" r="1.6" fill="#000"/>
<circle cx="564.6" cy="220.44" r="1.6" fill="#000"/>
<circle cx="565.4" cy="221.6" r="1.6" fill="#000"/>
<circle cx="566.5" cy="221.28" r="1.6" fill="#000"/>
<circle cx="567.6" cy="218.3" r="1.6" fill="#000"/>
<circle cx="569" cy="217.81" r="1.6" fill="#000"/>
<circle cx="570.4" cy="217.2" r="1.6" fill="#000"/>
<circle cx="571.5" cy="216.47" r="1.6" fill="#000"/>
<circle cx="572.6" cy="216.1" r="1.6" fill="#000"/>
<circle cx="573.45" cy="219" r="1.6" fill="#000"/>
<circle cx="574.3" cy="220.5" r="1.6" fill="#000"/>
<circle cx="575.4" cy="222.1" r="1.6" fill="#000"/>
<text x="600.7" y="147.5" font-size="18" font-weight="bold" fill="#000">j</text>
<rect x="648.45" y="147.8" width="74.75" height="1.2" fill="#111"/>
<text x="685.8" y="145.9" font-size="6.5" text-anchor="middle" fill="#222" class="t" textLength="56.1" lengthAdjust="spacingAndGlyphs">30 µM UDP-glucose</text>
<path d="M627.2 222.7V233.7H642.6" stroke="#262626" stroke-width="1.35" fill="none"/>
<text x="608.6" y="226.3" font-size="6.6" fill="#222" class="t">Ca<tspan font-size="5.3" dy="-2.6">2+</tspan></text>
<text x="605.2" y="233.7" font-size="6.4" fill="#222" class="t" textLength="20" lengthAdjust="spacingAndGlyphs">F(25%)</text>
<text x="630.5" y="241.4" font-size="6.4" fill="#222" class="t">50s</text>
<path d="M642 225.8 L643.4 208.6 L644.4 214.3 L645.9 225.1 L646.6 214.3 L647.7 220.8 L649.2 230.5 L650.2 214.3 L651.6 216.5 L652.3 221.5 L653.5 210.7 L654.5 225.5 L655.5 210.7 L656.6 217.2 L657.8 221.5 L658.8 217.9 L660.2 214.3 L661.6 218.6 L663.1 213.6 L665.2 222.9 L665.9 215 L668.1 217.2 L670.2 215 L671.7 220.1 L673.1 225.8 L673.8 223.6 L675.2 220.1 L676.7 217.2 L678.1 221.5 L680.3 217.2 L682.9 225.1 L684.3 221.5 L686.4 220.8 L688.6 219.3 L690.7 220.1 L692.9 220.8 L695 220.1 L696.5 218.6 L697.9 225.8 L698.6 222.9 L700.1 216.5 L701.5 213.6 L703.6 215.8 L705.8 217.9 L707.9 222.2 L708.7 218.6 L710.8 220.1 L713 211.5 L714.4 212.9 L715.8 217.2 L718 214.3 L719.4 213.6 L721.3 210.3" stroke="#777" stroke-width="0.45" fill="none"/>
<path d="M642 217.37V234.23M641.4 217.37h1.2M641.4 234.23h1.2M642.7 209.33V223.81M642.1 209.33h1.2M642.1 223.81h1.2M643.4 200.26V216.94M642.8 200.26h1.2M642.8 216.94h1.2M644.4 208.09V220.51M643.8 208.09h1.2M643.8 220.51h1.2M645.15 215.37V226.75M644.55 215.37h1.2M644.55 226.75h1.2M645.9 218.75V231.45M645.3 218.75h1.2M645.3 231.45h1.2M646.6 205.21V223.39M646 205.21h1.2M646 223.39h1.2M647.7 216.36V225.24M647.1 216.36h1.2M647.1 225.24h1.2M648.45 219.91V233.96M647.85 219.91h1.2M647.85 233.96h1.2M649.2 224.92V236.08M648.6 224.92h1.2M648.6 236.08h1.2M650.2 205.79V222.81M649.6 205.79h1.2M649.6 222.81h1.2M650.9 208.19V220.56M650.3 208.19h1.2M650.3 220.56h1.2M651.6 210.44V222.56M651 210.44h1.2M651 222.56h1.2M652.3 215.04V227.96M651.7 215.04h1.2M651.7 227.96h1.2M653.5 203.47V217.93M652.9 203.47h1.2M652.9 217.93h1.2M654.5 216.98V234.02M653.9 216.98h1.2M653.9 234.02h1.2M655.5 204.52V216.88M654.9 204.52h1.2M654.9 216.88h1.2M656.6 208.26V226.14M656 208.26h1.2M656 226.14h1.2M657.8 216.67V226.33M657.2 216.67h1.2M657.2 226.33h1.2M658.8 212.19V223.61M658.2 212.19h1.2M658.2 223.61h1.2M659.5 212.22V221.74M658.9 212.22h1.2M658.9 221.74h1.2M660.2 209.47V219.13M659.6 209.47h1.2M659.6 219.13h1.2M660.9 208.66V225.78M660.3 208.66h1.2M660.3 225.78h1.2M661.6 210.33V226.87M661 210.33h1.2M661 226.87h1.2M662.35 212.4V222.87M661.75 212.4h1.2M661.75 222.87h1.2M663.1 208.34V218.86M662.5 208.34h1.2M662.5 218.86h1.2M664.15 210.54V223.61M663.55 210.54h1.2M663.55 223.61h1.2M665.2 214.54V231.26M664.6 214.54h1.2M664.6 231.26h1.2M665.9 206.23V223.77M665.3 206.23h1.2M665.3 223.77h1.2M667 208.98V225.76M666.4 208.98h1.2M666.4 225.76h1.2M668.1 209.69V224.71M667.5 209.69h1.2M667.5 224.71h1.2M669.15 213.39V223.43M668.55 213.39h1.2M668.55 223.43h1.2M670.2 208.57V221.43M669.6 208.57h1.2M669.6 221.43h1.2M670.95 213.13V223.7M670.35 213.13h1.2M670.35 223.7h1.2M671.7 212.95V227.25M671.1 212.95h1.2M671.1 227.25h1.2M672.4 215.75V230.51M671.8 215.75h1.2M671.8 230.51h1.2M673.1 220.47V231.13M672.5 220.47h1.2M672.5 231.13h1.2M673.8 218V229.2M673.2 218h1.2M673.2 229.2h1.2M674.5 211.34V228.49M673.9 211.34h1.2M673.9 228.49h1.2M675.2 215.73V224.47M674.6 215.73h1.2M674.6 224.47h1.2M675.95 209.92V227.32M675.35 209.92h1.2M675.35 227.32h1.2M676.7 208.01V226.39M676.1 208.01h1.2M676.1 226.39h1.2M677.4 209.09V228.13M676.8 209.09h1.2M676.8 228.13h1.2M678.1 215.15V227.85M677.5 215.15h1.2M677.5 227.85h1.2M679.2 213.15V227.74M678.6 213.15h1.2M678.6 227.74h1.2M680.3 209.73V224.67M679.7 209.73h1.2M679.7 224.67h1.2M681.6 214.29V229.79M681 214.29h1.2M681 229.79h1.2M682.9 215.43V234.77M682.3 215.43h1.2M682.3 234.77h1.2M683.6 215.59V231.68M683 215.59h1.2M683 231.68h1.2M684.3 215.62V227.38M683.7 215.62h1.2M683.7 227.38h1.2M685.35 210.54V228.58M684.75 210.54h1.2M684.75 228.58h1.2M686.4 213.89V227.71M685.8 213.89h1.2M685.8 227.71h1.2M687.5 213.21V228.35M686.9 213.21h1.2M686.9 228.35h1.2M688.6 211.03V227.57M688 211.03h1.2M688 227.57h1.2M689.65 216.14V224.57M689.05 216.14h1.2M689.05 224.57h1.2M690.7 211.59V228.61M690.1 211.59h1.2M690.1 228.61h1.2M691.8 210.94V226.75M691.2 210.94h1.2M691.2 226.75h1.2M692.9 213.85V227.75M692.3 213.85h1.2M692.3 227.75h1.2M693.95 215.27V229.53M693.35 215.27h1.2M693.35 229.53h1.2M695 213.32V226.88M694.4 213.32h1.2M694.4 226.88h1.2M695.75 214.84V225.41M695.15 214.84h1.2M695.15 225.41h1.2M696.5 211.43V225.77M695.9 211.43h1.2M695.9 225.77h1.2M697.2 215.91V224.72M696.6 215.91h1.2M696.6 224.72h1.2M697.9 218.8V232.8M697.3 218.8h1.2M697.3 232.8h1.2M698.6 215.08V230.72M698 215.08h1.2M698 230.72h1.2M699.35 215.17V228.55M698.75 215.17h1.2M698.75 228.55h1.2M700.1 209.13V223.87M699.5 209.13h1.2M699.5 223.87h1.2M700.8 203.69V222.83M700.2 203.69h1.2M700.2 222.83h1.2M701.5 204.4V222.8M700.9 204.4h1.2M700.9 222.8h1.2M702.55 208.9V218.82M701.95 208.9h1.2M701.95 218.82h1.2M703.6 207.16V224.44M703 207.16h1.2M703 224.44h1.2M704.7 210.26V225.64M704.1 210.26h1.2M704.1 225.64h1.2M705.8 213.42V222.38M705.2 213.42h1.2M705.2 222.38h1.2M706.85 214.32V226.75M706.25 214.32h1.2M706.25 226.75h1.2M707.9 216.69V227.71M707.3 216.69h1.2M707.3 227.71h1.2M708.7 213.96V223.24M708.1 213.96h1.2M708.1 223.24h1.2M709.75 212.41V226.84M709.15 212.41h1.2M709.15 226.84h1.2M710.8 210.69V229.51M710.2 210.69h1.2M710.2 229.51h1.2M711.9 210.53V222.55M711.3 210.53h1.2M711.3 222.55h1.2M713 202.43V220.57M712.4 202.43h1.2M712.4 220.57h1.2M713.7 203.9V220.08M713.1 203.9h1.2M713.1 220.08h1.2M714.4 207.95V217.85M713.8 207.95h1.2M713.8 217.85h1.2M715.1 205.11V223.12M714.5 205.11h1.2M714.5 223.12h1.2M715.8 209.63V224.77M715.2 209.63h1.2M715.2 224.77h1.2M716.9 204.74V223.52M716.3 204.74h1.2M716.3 223.52h1.2M718 206.09V222.51M717.4 206.09h1.2M717.4 222.51h1.2M718.7 203.45V220.14M718.1 203.45h1.2M718.1 220.14h1.2M719.4 207.48V219.72M718.8 207.48h1.2M718.8 219.72h1.2M720.35 204.31V221.75M719.75 204.31h1.2M719.75 221.75h1.2M721.3 200.88V219.72M720.7 200.88h1.2M720.7 219.72h1.2" stroke="#aaa" stroke-width="0.55" fill="none"/>
<circle cx="642" cy="225.8" r="1.5" fill="#000"/>
<circle cx="642.7" cy="216.57" r="1.5" fill="#000"/>
<circle cx="643.4" cy="208.6" r="1.5" fill="#000"/>
<circle cx="644.4" cy="214.3" r="1.5" fill="#000"/>
<circle cx="645.15" cy="221.06" r="1.5" fill="#000"/>
<circle cx="645.9" cy="225.1" r="1.5" fill="#000"/>
<circle cx="646.6" cy="214.3" r="1.5" fill="#000"/>
<circle cx="647.7" cy="220.8" r="1.5" fill="#000"/>
<circle cx="648.45" cy="226.94" r="1.5" fill="#000"/>
<circle cx="649.2" cy="230.5" r="1.5" fill="#000"/>
<circle cx="650.2" cy="214.3" r="1.5" fill="#000"/>
<circle cx="650.9" cy="214.38" r="1.5" fill="#000"/>
<circle cx="651.6" cy="216.5" r="1.5" fill="#000"/>
<circle cx="652.3" cy="221.5" r="1.5" fill="#000"/>
<circle cx="653.5" cy="210.7" r="1.5" fill="#000"/>
<circle cx="654.5" cy="225.5" r="1.5" fill="#000"/>
<circle cx="655.5" cy="210.7" r="1.5" fill="#000"/>
<circle cx="656.6" cy="217.2" r="1.5" fill="#000"/>
<circle cx="657.8" cy="221.5" r="1.5" fill="#000"/>
<circle cx="658.8" cy="217.9" r="1.5" fill="#000"/>
<circle cx="659.5" cy="216.98" r="1.5" fill="#000"/>
<circle cx="660.2" cy="214.3" r="1.5" fill="#000"/>
<circle cx="660.9" cy="217.22" r="1.5" fill="#000"/>
<circle cx="661.6" cy="218.6" r="1.5" fill="#000"/>
<circle cx="662.35" cy="217.63" r="1.5" fill="#000"/>
<circle cx="663.1" cy="213.6" r="1.5" fill="#000"/>
<circle cx="664.15" cy="217.08" r="1.5" fill="#000"/>
<circle cx="665.2" cy="222.9" r="1.5" fill="#000"/>
<circle cx="665.9" cy="215" r="1.5" fill="#000"/>
<circle cx="667" cy="217.37" r="1.5" fill="#000"/>
<circle cx="668.1" cy="217.2" r="1.5" fill="#000"/>
<circle cx="669.15" cy="218.41" r="1.5" fill="#000"/>
<circle cx="670.2" cy="215" r="1.5" fill="#000"/>
<circle cx="670.95" cy="218.41" r="1.5" fill="#000"/>
<circle cx="671.7" cy="220.1" r="1.5" fill="#000"/>
<circle cx="672.4" cy="223.13" r="1.5" fill="#000"/>
<circle cx="673.1" cy="225.8" r="1.5" fill="#000"/>
<circle cx="673.8" cy="223.6" r="1.5" fill="#000"/>
<circle cx="674.5" cy="219.92" r="1.5" fill="#000"/>
<circle cx="675.2" cy="220.1" r="1.5" fill="#000"/>
<circle cx="675.95" cy="218.62" r="1.5" fill="#000"/>
<circle cx="676.7" cy="217.2" r="1.5" fill="#000"/>
<circle cx="677.4" cy="218.61" r="1.5" fill="#000"/>
<circle cx="678.1" cy="221.5" r="1.5" fill="#000"/>
<circle cx="679.2" cy="220.44" r="1.5" fill="#000"/>
<circle cx="680.3" cy="217.2" r="1.5" fill="#000"/>
<circle cx="681.6" cy="222.04" r="1.5" fill="#000"/>
<circle cx="682.9" cy="225.1" r="1.5" fill="#000"/>
<circle cx="683.6" cy="223.63" r="1.5" fill="#000"/>
<circle cx="684.3" cy="221.5" r="1.5" fill="#000"/>
<circle cx="685.35" cy="219.56" r="1.5" fill="#000"/>
<circle cx="686.4" cy="220.8" r="1.5" fill="#000"/>
<circle cx="687.5" cy="220.78" r="1.5" fill="#000"/>
<circle cx="688.6" cy="219.3" r="1.5" fill="#000"/>
<circle cx="689.65" cy="220.35" r="1.5" fill="#000"/>
<circle cx="690.7" cy="220.1" r="1.5" fill="#000"/>
<circle cx="691.8" cy="218.85" r="1.5" fill="#000"/>
<circle cx="692.9" cy="220.8" r="1.5" fill="#000"/>
<circle cx="693.95" cy="222.4" r="1.5" fill="#000"/>
<circle cx="695" cy="220.1" r="1.5" fill="#000"/>
<circle cx="695.75" cy="220.13" r="1.5" fill="#000"/>
<circle cx="696.5" cy="218.6" r="1.5" fill="#000"/>
<circle cx="697.2" cy="220.32" r="1.5" fill="#000"/>
<circle cx="697.9" cy="225.8" r="1.5" fill="#000"/>
<circle cx="698.6" cy="222.9" r="1.5" fill="#000"/>
<circle cx="699.35" cy="221.86" r="1.5" fill="#000"/>
<circle cx="700.1" cy="216.5" r="1.5" fill="#000"/>
<circle cx="700.8" cy="213.26" r="1.5" fill="#000"/>
<circle cx="701.5" cy="213.6" r="1.5" fill="#000"/>
<circle cx="702.55" cy="213.86" r="1.5" fill="#000"/>
<circle cx="703.6" cy="215.8" r="1.5" fill="#000"/>
<circle cx="704.7" cy="217.95" r="1.5" fill="#000"/>
<circle cx="705.8" cy="217.9" r="1.5" fill="#000"/>
<circle cx="706.85" cy="220.54" r="1.5" fill="#000"/>
<circle cx="707.9" cy="222.2" r="1.5" fill="#000"/>
<circle cx="708.7" cy="218.6" r="1.5" fill="#000"/>
<circle cx="709.75" cy="219.62" r="1.5" fill="#000"/>
<circle cx="710.8" cy="220.1" r="1.5" fill="#000"/>
<circle cx="711.9" cy="216.54" r="1.5" fill="#000"/>
<circle cx="713" cy="211.5" r="1.5" fill="#000"/>
<circle cx="713.7" cy="211.99" r="1.5" fill="#000"/>
<circle cx="714.4" cy="212.9" r="1.5" fill="#000"/>
<circle cx="715.1" cy="214.11" r="1.5" fill="#000"/>
<circle cx="715.8" cy="217.2" r="1.5" fill="#000"/>
<circle cx="716.9" cy="214.13" r="1.5" fill="#000"/>
<circle cx="718" cy="214.3" r="1.5" fill="#000"/>
<circle cx="718.7" cy="211.79" r="1.5" fill="#000"/>
<circle cx="719.4" cy="213.6" r="1.5" fill="#000"/>
<circle cx="720.35" cy="213.03" r="1.5" fill="#000"/>
<circle cx="721.3" cy="210.3" r="1.5" fill="#000"/>
</svg>
</body></html>
